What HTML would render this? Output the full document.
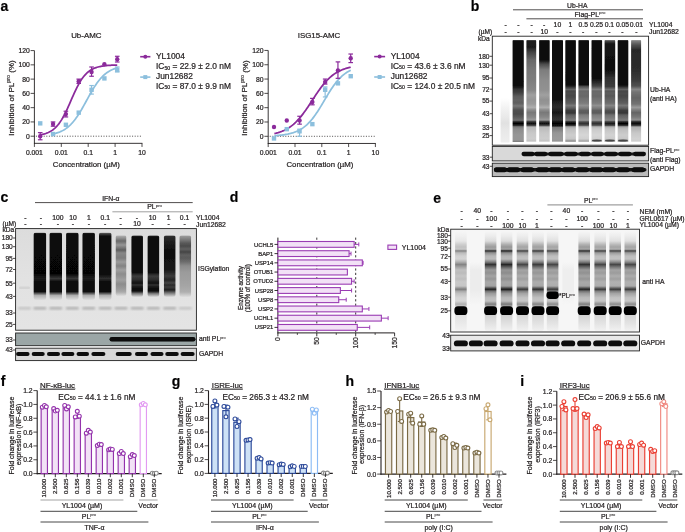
<!DOCTYPE html><html><head><meta charset="utf-8"><style>
html,body{margin:0;padding:0;background:#fff;width:685px;height:532px;overflow:hidden}
svg{display:block;will-change:transform}
text{font-family:"Liberation Sans",sans-serif;stroke:#231f20;stroke-width:0.22px}
</style></head><body>
<svg width="685" height="532" viewBox="0 0 685 532" font-family="Liberation Sans, sans-serif">
<defs><filter id="bl1" x="-30%" y="-5%" width="160%" height="110%"><feGaussianBlur stdDeviation="0.7 0.5"/></filter><filter id="bl2" x="-30%" y="-30%" width="160%" height="160%"><feGaussianBlur stdDeviation="0.6"/></filter><filter id="bl3" x="-30%" y="-30%" width="160%" height="160%"><feGaussianBlur stdDeviation="1.0"/></filter><linearGradient id="lg1" gradientUnits="userSpaceOnUse" x1="0" y1="98" x2="0" y2="143"><stop offset="0.0000" stop-color="#ffffff"/><stop offset="0.2222" stop-color="#f2f2f2"/><stop offset="0.4444" stop-color="#e8e8e8"/><stop offset="0.5556" stop-color="#e1e1e1"/><stop offset="0.7111" stop-color="#e8e8e8"/><stop offset="0.9778" stop-color="#eeeeee"/><stop offset="1.0000" stop-color="#ffffff"/></linearGradient><linearGradient id="lg2" gradientUnits="userSpaceOnUse" x1="0" y1="39.8" x2="0" y2="142.5"><stop offset="0.0000" stop-color="#ffffff"/><stop offset="0.0078" stop-color="#0f0f0f"/><stop offset="0.4158" stop-color="#080808"/><stop offset="0.4547" stop-color="#121212"/><stop offset="0.4791" stop-color="#323232"/><stop offset="0.5083" stop-color="#3c3c3c"/><stop offset="0.5472" stop-color="#5a5a5a"/><stop offset="0.5862" stop-color="#646464"/><stop offset="0.6154" stop-color="#5f5f5f"/><stop offset="0.6446" stop-color="#787878"/><stop offset="0.6835" stop-color="#505050"/><stop offset="0.7225" stop-color="#4b4b4b"/><stop offset="0.7614" stop-color="#5f5f5f"/><stop offset="0.7838" stop-color="#6e6e6e"/><stop offset="0.7984" stop-color="#232323"/><stop offset="0.8150" stop-color="#050505"/><stop offset="0.8325" stop-color="#232323"/><stop offset="0.8471" stop-color="#787878"/><stop offset="0.8685" stop-color="#8c8c8c"/><stop offset="0.9270" stop-color="#969696"/><stop offset="0.9757" stop-color="#969696"/><stop offset="0.9903" stop-color="#828282"/><stop offset="1.0000" stop-color="#ffffff"/></linearGradient><linearGradient id="lg3" gradientUnits="userSpaceOnUse" x1="0" y1="39.8" x2="0" y2="142.5"><stop offset="0.0000" stop-color="#ffffff"/><stop offset="0.0078" stop-color="#1e1e1e"/><stop offset="0.0701" stop-color="#191919"/><stop offset="0.1188" stop-color="#414141"/><stop offset="0.1967" stop-color="#696969"/><stop offset="0.2941" stop-color="#787878"/><stop offset="0.3914" stop-color="#7d7d7d"/><stop offset="0.4888" stop-color="#878787"/><stop offset="0.5375" stop-color="#a0a0a0"/><stop offset="0.5862" stop-color="#969696"/><stop offset="0.6251" stop-color="#9b9b9b"/><stop offset="0.6582" stop-color="#afafaf"/><stop offset="0.6835" stop-color="#8c8c8c"/><stop offset="0.7089" stop-color="#787878"/><stop offset="0.7517" stop-color="#878787"/><stop offset="0.7809" stop-color="#9b9b9b"/><stop offset="0.7965" stop-color="#3c3c3c"/><stop offset="0.8140" stop-color="#0f0f0f"/><stop offset="0.8325" stop-color="#3c3c3c"/><stop offset="0.8491" stop-color="#b9b9b9"/><stop offset="0.9075" stop-color="#c8c8c8"/><stop offset="0.9659" stop-color="#cdcdcd"/><stop offset="0.9854" stop-color="#c3c3c3"/><stop offset="1.0000" stop-color="#ffffff"/></linearGradient><linearGradient id="lg4" gradientUnits="userSpaceOnUse" x1="0" y1="39.8" x2="0" y2="142.5"><stop offset="0.0000" stop-color="#ffffff"/><stop offset="0.0078" stop-color="#0f0f0f"/><stop offset="0.1967" stop-color="#0c0c0c"/><stop offset="0.2356" stop-color="#4b4b4b"/><stop offset="0.2941" stop-color="#7d7d7d"/><stop offset="0.3914" stop-color="#8c8c8c"/><stop offset="0.4888" stop-color="#919191"/><stop offset="0.5375" stop-color="#a0a0a0"/><stop offset="0.5862" stop-color="#919191"/><stop offset="0.6251" stop-color="#969696"/><stop offset="0.6582" stop-color="#afafaf"/><stop offset="0.6835" stop-color="#8c8c8c"/><stop offset="0.7089" stop-color="#787878"/><stop offset="0.7517" stop-color="#878787"/><stop offset="0.7809" stop-color="#9b9b9b"/><stop offset="0.7965" stop-color="#3c3c3c"/><stop offset="0.8140" stop-color="#0f0f0f"/><stop offset="0.8325" stop-color="#3c3c3c"/><stop offset="0.8491" stop-color="#b9b9b9"/><stop offset="0.9075" stop-color="#c8c8c8"/><stop offset="0.9659" stop-color="#cdcdcd"/><stop offset="0.9854" stop-color="#c3c3c3"/><stop offset="1.0000" stop-color="#ffffff"/></linearGradient><linearGradient id="lg5" gradientUnits="userSpaceOnUse" x1="0" y1="39.8" x2="0" y2="142.5"><stop offset="0.0000" stop-color="#ffffff"/><stop offset="0.0078" stop-color="#0a0a0a"/><stop offset="0.5667" stop-color="#080808"/><stop offset="0.6056" stop-color="#1e1e1e"/><stop offset="0.6543" stop-color="#2d2d2d"/><stop offset="0.7089" stop-color="#191919"/><stop offset="0.7517" stop-color="#2d2d2d"/><stop offset="0.7809" stop-color="#323232"/><stop offset="0.7965" stop-color="#141414"/><stop offset="0.8140" stop-color="#000000"/><stop offset="0.8374" stop-color="#141414"/><stop offset="0.8539" stop-color="#787878"/><stop offset="0.9075" stop-color="#969696"/><stop offset="0.9659" stop-color="#9b9b9b"/><stop offset="0.9854" stop-color="#969696"/><stop offset="1.0000" stop-color="#ffffff"/></linearGradient><linearGradient id="lg6" gradientUnits="userSpaceOnUse" x1="0" y1="39.8" x2="0" y2="142.5"><stop offset="0.0000" stop-color="#ffffff"/><stop offset="0.0078" stop-color="#0f0f0f"/><stop offset="0.4012" stop-color="#080808"/><stop offset="0.4401" stop-color="#121212"/><stop offset="0.4499" stop-color="#1e1e1e"/><stop offset="0.4693" stop-color="#464646"/><stop offset="0.4849" stop-color="#646464"/><stop offset="0.4985" stop-color="#464646"/><stop offset="0.5219" stop-color="#4b4b4b"/><stop offset="0.5472" stop-color="#464646"/><stop offset="0.5862" stop-color="#555555"/><stop offset="0.6173" stop-color="#5f5f5f"/><stop offset="0.6397" stop-color="#787878"/><stop offset="0.6650" stop-color="#5f5f5f"/><stop offset="0.6894" stop-color="#3c3c3c"/><stop offset="0.7128" stop-color="#373737"/><stop offset="0.7322" stop-color="#5f5f5f"/><stop offset="0.7614" stop-color="#6e6e6e"/><stop offset="0.7838" stop-color="#7d7d7d"/><stop offset="0.7984" stop-color="#282828"/><stop offset="0.8150" stop-color="#050505"/><stop offset="0.8325" stop-color="#282828"/><stop offset="0.8471" stop-color="#a5a5a5"/><stop offset="0.8685" stop-color="#bebebe"/><stop offset="0.9270" stop-color="#cdcdcd"/><stop offset="0.9659" stop-color="#c6c6c6"/><stop offset="0.9873" stop-color="#8c8c8c"/><stop offset="1.0000" stop-color="#ffffff"/></linearGradient><linearGradient id="lg7" gradientUnits="userSpaceOnUse" x1="0" y1="39.8" x2="0" y2="142.5"><stop offset="0.0000" stop-color="#ffffff"/><stop offset="0.0078" stop-color="#0f0f0f"/><stop offset="0.4012" stop-color="#080808"/><stop offset="0.4401" stop-color="#121212"/><stop offset="0.4499" stop-color="#464646"/><stop offset="0.4693" stop-color="#676767"/><stop offset="0.4849" stop-color="#808080"/><stop offset="0.4985" stop-color="#676767"/><stop offset="0.5219" stop-color="#6b6b6b"/><stop offset="0.5472" stop-color="#676767"/><stop offset="0.5862" stop-color="#747474"/><stop offset="0.6173" stop-color="#7c7c7c"/><stop offset="0.6397" stop-color="#909090"/><stop offset="0.6650" stop-color="#7c7c7c"/><stop offset="0.6894" stop-color="#5f5f5f"/><stop offset="0.7128" stop-color="#5b5b5b"/><stop offset="0.7322" stop-color="#7c7c7c"/><stop offset="0.7614" stop-color="#888888"/><stop offset="0.7838" stop-color="#949494"/><stop offset="0.7984" stop-color="#4f4f4f"/><stop offset="0.8150" stop-color="#323232"/><stop offset="0.8325" stop-color="#4f4f4f"/><stop offset="0.8471" stop-color="#b5b5b5"/><stop offset="0.8685" stop-color="#cacaca"/><stop offset="0.9270" stop-color="#d6d6d6"/><stop offset="0.9659" stop-color="#d0d0d0"/><stop offset="0.9873" stop-color="#a1a1a1"/><stop offset="1.0000" stop-color="#ffffff"/></linearGradient><linearGradient id="lg8" gradientUnits="userSpaceOnUse" x1="0" y1="39.8" x2="0" y2="142.5"><stop offset="0.0000" stop-color="#ffffff"/><stop offset="0.0078" stop-color="#0f0f0f"/><stop offset="0.3427" stop-color="#080808"/><stop offset="0.3817" stop-color="#121212"/><stop offset="0.4499" stop-color="#464646"/><stop offset="0.4693" stop-color="#676767"/><stop offset="0.4849" stop-color="#808080"/><stop offset="0.4985" stop-color="#676767"/><stop offset="0.5219" stop-color="#6b6b6b"/><stop offset="0.5472" stop-color="#676767"/><stop offset="0.5862" stop-color="#747474"/><stop offset="0.6173" stop-color="#7c7c7c"/><stop offset="0.6397" stop-color="#909090"/><stop offset="0.6650" stop-color="#7c7c7c"/><stop offset="0.6894" stop-color="#5f5f5f"/><stop offset="0.7128" stop-color="#5b5b5b"/><stop offset="0.7322" stop-color="#7c7c7c"/><stop offset="0.7614" stop-color="#888888"/><stop offset="0.7838" stop-color="#949494"/><stop offset="0.7984" stop-color="#4f4f4f"/><stop offset="0.8150" stop-color="#323232"/><stop offset="0.8325" stop-color="#4f4f4f"/><stop offset="0.8471" stop-color="#b5b5b5"/><stop offset="0.8685" stop-color="#cacaca"/><stop offset="0.9270" stop-color="#d6d6d6"/><stop offset="0.9659" stop-color="#d0d0d0"/><stop offset="0.9873" stop-color="#a1a1a1"/><stop offset="1.0000" stop-color="#ffffff"/></linearGradient><linearGradient id="lg9" gradientUnits="userSpaceOnUse" x1="0" y1="39.8" x2="0" y2="142.5"><stop offset="0.0000" stop-color="#ffffff"/><stop offset="0.0078" stop-color="#505050"/><stop offset="0.0409" stop-color="#141414"/><stop offset="0.2941" stop-color="#0f0f0f"/><stop offset="0.3720" stop-color="#323232"/><stop offset="0.4499" stop-color="#3c3c3c"/><stop offset="0.4499" stop-color="#343434"/><stop offset="0.4693" stop-color="#585858"/><stop offset="0.4849" stop-color="#747474"/><stop offset="0.4985" stop-color="#585858"/><stop offset="0.5219" stop-color="#5d5d5d"/><stop offset="0.5472" stop-color="#585858"/><stop offset="0.5862" stop-color="#666666"/><stop offset="0.6173" stop-color="#6f6f6f"/><stop offset="0.6397" stop-color="#868686"/><stop offset="0.6650" stop-color="#6f6f6f"/><stop offset="0.6894" stop-color="#505050"/><stop offset="0.7128" stop-color="#4b4b4b"/><stop offset="0.7322" stop-color="#6f6f6f"/><stop offset="0.7614" stop-color="#7c7c7c"/><stop offset="0.7838" stop-color="#8a8a8a"/><stop offset="0.7984" stop-color="#3e3e3e"/><stop offset="0.8150" stop-color="#1e1e1e"/><stop offset="0.8325" stop-color="#3e3e3e"/><stop offset="0.8471" stop-color="#aeaeae"/><stop offset="0.8685" stop-color="#c4c4c4"/><stop offset="0.9270" stop-color="#d2d2d2"/><stop offset="0.9659" stop-color="#cccccc"/><stop offset="0.9873" stop-color="#989898"/><stop offset="1.0000" stop-color="#ffffff"/></linearGradient><linearGradient id="lg10" gradientUnits="userSpaceOnUse" x1="0" y1="39.8" x2="0" y2="142.5"><stop offset="0.0000" stop-color="#ffffff"/><stop offset="0.0078" stop-color="#0f0f0f"/><stop offset="0.4012" stop-color="#080808"/><stop offset="0.4401" stop-color="#121212"/><stop offset="0.4499" stop-color="#1e1e1e"/><stop offset="0.4693" stop-color="#464646"/><stop offset="0.4849" stop-color="#646464"/><stop offset="0.4985" stop-color="#464646"/><stop offset="0.5219" stop-color="#4b4b4b"/><stop offset="0.5472" stop-color="#464646"/><stop offset="0.5862" stop-color="#555555"/><stop offset="0.6173" stop-color="#5f5f5f"/><stop offset="0.6397" stop-color="#787878"/><stop offset="0.6650" stop-color="#5f5f5f"/><stop offset="0.6894" stop-color="#3c3c3c"/><stop offset="0.7128" stop-color="#373737"/><stop offset="0.7322" stop-color="#5f5f5f"/><stop offset="0.7614" stop-color="#6e6e6e"/><stop offset="0.7838" stop-color="#7d7d7d"/><stop offset="0.7984" stop-color="#282828"/><stop offset="0.8150" stop-color="#050505"/><stop offset="0.8325" stop-color="#282828"/><stop offset="0.8471" stop-color="#a5a5a5"/><stop offset="0.8685" stop-color="#bebebe"/><stop offset="0.9270" stop-color="#cdcdcd"/><stop offset="0.9659" stop-color="#c6c6c6"/><stop offset="0.9873" stop-color="#8c8c8c"/><stop offset="1.0000" stop-color="#ffffff"/></linearGradient><linearGradient id="lg11" gradientUnits="userSpaceOnUse" x1="0" y1="39.8" x2="0" y2="142.5"><stop offset="0.0000" stop-color="#ffffff"/><stop offset="0.0078" stop-color="#828282"/><stop offset="0.0506" stop-color="#505050"/><stop offset="0.0993" stop-color="#282828"/><stop offset="0.2941" stop-color="#2d2d2d"/><stop offset="0.3914" stop-color="#3c3c3c"/><stop offset="0.4499" stop-color="#505050"/><stop offset="0.4830" stop-color="#878787"/><stop offset="0.5083" stop-color="#737373"/><stop offset="0.5667" stop-color="#646464"/><stop offset="0.6251" stop-color="#737373"/><stop offset="0.6582" stop-color="#9b9b9b"/><stop offset="0.6835" stop-color="#7d7d7d"/><stop offset="0.7089" stop-color="#646464"/><stop offset="0.7517" stop-color="#787878"/><stop offset="0.7809" stop-color="#919191"/><stop offset="0.7965" stop-color="#323232"/><stop offset="0.8140" stop-color="#0a0a0a"/><stop offset="0.8325" stop-color="#323232"/><stop offset="0.8491" stop-color="#afafaf"/><stop offset="0.9075" stop-color="#c8c8c8"/><stop offset="0.9659" stop-color="#d2d2d2"/><stop offset="0.9854" stop-color="#cdcdcd"/><stop offset="1.0000" stop-color="#ffffff"/></linearGradient><linearGradient id="cbg" x1="0" y1="0" x2="0" y2="1"><stop offset="0" stop-color="#dcdcdc"/><stop offset="0.5" stop-color="#e2e2e2"/><stop offset="1" stop-color="#e4e4e4"/></linearGradient><linearGradient id="lg12" gradientUnits="userSpaceOnUse" x1="0" y1="232.3" x2="0" y2="300"><stop offset="0.0000" stop-color="#dedede"/><stop offset="0.0148" stop-color="#141414"/><stop offset="0.0547" stop-color="#080808"/><stop offset="0.6160" stop-color="#060606"/><stop offset="0.6824" stop-color="#1e1e1e"/><stop offset="0.7341" stop-color="#0a0a0a"/><stop offset="0.8744" stop-color="#080808"/><stop offset="0.8996" stop-color="#505050"/><stop offset="0.9335" stop-color="#afafaf"/><stop offset="1.0000" stop-color="#dedede"/></linearGradient><linearGradient id="lg13" gradientUnits="userSpaceOnUse" x1="0" y1="232.3" x2="0" y2="300"><stop offset="0.0000" stop-color="#dedede"/><stop offset="0.0148" stop-color="#141414"/><stop offset="0.0547" stop-color="#080808"/><stop offset="0.6160" stop-color="#060606"/><stop offset="0.6824" stop-color="#373737"/><stop offset="0.7341" stop-color="#0a0a0a"/><stop offset="0.8744" stop-color="#080808"/><stop offset="0.8996" stop-color="#505050"/><stop offset="0.9335" stop-color="#afafaf"/><stop offset="1.0000" stop-color="#dedede"/></linearGradient><linearGradient id="lg14" gradientUnits="userSpaceOnUse" x1="0" y1="232.3" x2="0" y2="300"><stop offset="0.0000" stop-color="#dedede"/><stop offset="0.0148" stop-color="#141414"/><stop offset="0.0547" stop-color="#080808"/><stop offset="0.6160" stop-color="#060606"/><stop offset="0.6824" stop-color="#373737"/><stop offset="0.7341" stop-color="#0a0a0a"/><stop offset="0.8744" stop-color="#080808"/><stop offset="0.8996" stop-color="#505050"/><stop offset="0.9335" stop-color="#afafaf"/><stop offset="1.0000" stop-color="#dedede"/></linearGradient><linearGradient id="lg15" gradientUnits="userSpaceOnUse" x1="0" y1="232.3" x2="0" y2="300"><stop offset="0.0000" stop-color="#dedede"/><stop offset="0.0148" stop-color="#141414"/><stop offset="0.0547" stop-color="#080808"/><stop offset="0.6160" stop-color="#060606"/><stop offset="0.6824" stop-color="#1e1e1e"/><stop offset="0.7341" stop-color="#0a0a0a"/><stop offset="0.8744" stop-color="#080808"/><stop offset="0.8996" stop-color="#505050"/><stop offset="0.9335" stop-color="#afafaf"/><stop offset="1.0000" stop-color="#dedede"/></linearGradient><linearGradient id="lg16" gradientUnits="userSpaceOnUse" x1="0" y1="232.3" x2="0" y2="300"><stop offset="0.0000" stop-color="#dedede"/><stop offset="0.0148" stop-color="#505050"/><stop offset="0.0547" stop-color="#0f0f0f"/><stop offset="0.6160" stop-color="#080808"/><stop offset="0.6824" stop-color="#2d2d2d"/><stop offset="0.7341" stop-color="#0c0c0c"/><stop offset="0.8744" stop-color="#080808"/><stop offset="0.8996" stop-color="#505050"/><stop offset="0.9335" stop-color="#afafaf"/><stop offset="1.0000" stop-color="#dedede"/></linearGradient><linearGradient id="lg17" gradientUnits="userSpaceOnUse" x1="0" y1="235" x2="0" y2="296"><stop offset="0.0000" stop-color="#dedede"/><stop offset="0.0246" stop-color="#a5a5a5"/><stop offset="0.0984" stop-color="#696969"/><stop offset="0.1639" stop-color="#969696"/><stop offset="0.2459" stop-color="#5f5f5f"/><stop offset="0.2951" stop-color="#878787"/><stop offset="0.3770" stop-color="#7d7d7d"/><stop offset="0.4426" stop-color="#9b9b9b"/><stop offset="0.5082" stop-color="#828282"/><stop offset="0.5738" stop-color="#a0a0a0"/><stop offset="0.6393" stop-color="#8c8c8c"/><stop offset="0.7377" stop-color="#a0a0a0"/><stop offset="0.8033" stop-color="#8c8c8c"/><stop offset="0.8852" stop-color="#9b9b9b"/><stop offset="0.9344" stop-color="#aaaaaa"/><stop offset="1.0000" stop-color="#dedede"/></linearGradient><linearGradient id="lg18" gradientUnits="userSpaceOnUse" x1="0" y1="235" x2="0" y2="297"><stop offset="0.0000" stop-color="#dedede"/><stop offset="0.0242" stop-color="#141414"/><stop offset="0.0806" stop-color="#0a0a0a"/><stop offset="0.5968" stop-color="#0a0a0a"/><stop offset="0.6613" stop-color="#3c3c3c"/><stop offset="0.7258" stop-color="#2d2d2d"/><stop offset="0.7742" stop-color="#0f0f0f"/><stop offset="0.8065" stop-color="#323232"/><stop offset="0.8387" stop-color="#141414"/><stop offset="0.9032" stop-color="#0a0a0a"/><stop offset="0.9435" stop-color="#787878"/><stop offset="1.0000" stop-color="#dedede"/></linearGradient><linearGradient id="lg19" gradientUnits="userSpaceOnUse" x1="0" y1="235" x2="0" y2="297"><stop offset="0.0000" stop-color="#dedede"/><stop offset="0.0242" stop-color="#141414"/><stop offset="0.0806" stop-color="#0a0a0a"/><stop offset="0.5968" stop-color="#0a0a0a"/><stop offset="0.6613" stop-color="#3c3c3c"/><stop offset="0.7258" stop-color="#2d2d2d"/><stop offset="0.7742" stop-color="#0f0f0f"/><stop offset="0.8065" stop-color="#323232"/><stop offset="0.8387" stop-color="#141414"/><stop offset="0.9032" stop-color="#0a0a0a"/><stop offset="0.9435" stop-color="#787878"/><stop offset="1.0000" stop-color="#dedede"/></linearGradient><linearGradient id="lg20" gradientUnits="userSpaceOnUse" x1="0" y1="235" x2="0" y2="297"><stop offset="0.0000" stop-color="#dedede"/><stop offset="0.0242" stop-color="#2d2d2d"/><stop offset="0.1129" stop-color="#1e1e1e"/><stop offset="0.2419" stop-color="#0f0f0f"/><stop offset="0.4355" stop-color="#121212"/><stop offset="0.5645" stop-color="#191919"/><stop offset="0.6613" stop-color="#3c3c3c"/><stop offset="0.7258" stop-color="#232323"/><stop offset="0.7742" stop-color="#464646"/><stop offset="0.8065" stop-color="#282828"/><stop offset="0.8387" stop-color="#3c3c3c"/><stop offset="0.8871" stop-color="#1e1e1e"/><stop offset="0.9355" stop-color="#787878"/><stop offset="1.0000" stop-color="#dedede"/></linearGradient><linearGradient id="lg21" gradientUnits="userSpaceOnUse" x1="0" y1="235" x2="0" y2="297"><stop offset="0.0000" stop-color="#dedede"/><stop offset="0.0242" stop-color="#969696"/><stop offset="0.0806" stop-color="#787878"/><stop offset="0.1290" stop-color="#5a5a5a"/><stop offset="0.1774" stop-color="#4b4b4b"/><stop offset="0.2258" stop-color="#5f5f5f"/><stop offset="0.2742" stop-color="#464646"/><stop offset="0.3226" stop-color="#5f5f5f"/><stop offset="0.3710" stop-color="#5a5a5a"/><stop offset="0.4355" stop-color="#6e6e6e"/><stop offset="0.5000" stop-color="#8c8c8c"/><stop offset="0.5968" stop-color="#9b9b9b"/><stop offset="0.7258" stop-color="#a0a0a0"/><stop offset="0.8226" stop-color="#a5a5a5"/><stop offset="0.9194" stop-color="#afafaf"/><stop offset="1.0000" stop-color="#dedede"/></linearGradient><linearGradient id="lg22" gradientUnits="userSpaceOnUse" x1="0" y1="231" x2="0" y2="331"><stop offset="0.0000" stop-color="#f6f6f6"/><stop offset="0.0500" stop-color="#f0f0f0"/><stop offset="0.1000" stop-color="#e7e7e7"/><stop offset="0.1350" stop-color="#cecece"/><stop offset="0.1600" stop-color="#c1c1c1"/><stop offset="0.1820" stop-color="#c9c9c9"/><stop offset="0.1990" stop-color="#828282"/><stop offset="0.2180" stop-color="#bbbbbb"/><stop offset="0.2500" stop-color="#d1d1d1"/><stop offset="0.2800" stop-color="#d4d4d4"/><stop offset="0.3100" stop-color="#b0b0b0"/><stop offset="0.3350" stop-color="#848484"/><stop offset="0.3650" stop-color="#a8a8a8"/><stop offset="0.3900" stop-color="#c1c1c1"/><stop offset="0.4200" stop-color="#bbbbbb"/><stop offset="0.4500" stop-color="#c6c6c6"/><stop offset="0.4800" stop-color="#bebebe"/><stop offset="0.5100" stop-color="#c9c9c9"/><stop offset="0.5500" stop-color="#c6c6c6"/><stop offset="0.5830" stop-color="#7c7c7c"/><stop offset="0.6030" stop-color="#ababab"/><stop offset="0.6250" stop-color="#c1c1c1"/><stop offset="0.6670" stop-color="#d4d4d4"/><stop offset="0.7000" stop-color="#d7d7d7"/><stop offset="0.7320" stop-color="#b0b0b0"/><stop offset="0.7500" stop-color="#c9c9c9"/><stop offset="0.8500" stop-color="#e2e2e2"/><stop offset="0.9100" stop-color="#e8e8e8"/><stop offset="1.0000" stop-color="#f2f2f2"/></linearGradient><linearGradient id="lg23" gradientUnits="userSpaceOnUse" x1="0" y1="231" x2="0" y2="331"><stop offset="0.0000" stop-color="#f6f6f6"/><stop offset="0.0500" stop-color="#ececec"/><stop offset="0.1000" stop-color="#dddddd"/><stop offset="0.1350" stop-color="#b2b2b2"/><stop offset="0.1600" stop-color="#9b9b9b"/><stop offset="0.1820" stop-color="#a9a9a9"/><stop offset="0.1990" stop-color="#2e2e2e"/><stop offset="0.2180" stop-color="#919191"/><stop offset="0.2500" stop-color="#b7b7b7"/><stop offset="0.2800" stop-color="#bcbcbc"/><stop offset="0.3100" stop-color="#7e7e7e"/><stop offset="0.3350" stop-color="#323232"/><stop offset="0.3650" stop-color="#707070"/><stop offset="0.3900" stop-color="#9b9b9b"/><stop offset="0.4200" stop-color="#919191"/><stop offset="0.4500" stop-color="#a4a4a4"/><stop offset="0.4800" stop-color="#969696"/><stop offset="0.5100" stop-color="#a9a9a9"/><stop offset="0.5500" stop-color="#a4a4a4"/><stop offset="0.5830" stop-color="#242424"/><stop offset="0.6030" stop-color="#757575"/><stop offset="0.6250" stop-color="#9b9b9b"/><stop offset="0.6670" stop-color="#bcbcbc"/><stop offset="0.7000" stop-color="#c1c1c1"/><stop offset="0.7320" stop-color="#7e7e7e"/><stop offset="0.7500" stop-color="#a9a9a9"/><stop offset="0.8500" stop-color="#d4d4d4"/><stop offset="0.9100" stop-color="#dfdfdf"/><stop offset="1.0000" stop-color="#f0f0f0"/></linearGradient><linearGradient id="lg24" gradientUnits="userSpaceOnUse" x1="0" y1="231" x2="0" y2="331"><stop offset="0.0000" stop-color="#f6f6f6"/><stop offset="0.0500" stop-color="#ececec"/><stop offset="0.1000" stop-color="#dcdcdc"/><stop offset="0.1350" stop-color="#afafaf"/><stop offset="0.1600" stop-color="#969696"/><stop offset="0.1820" stop-color="#a5a5a5"/><stop offset="0.1990" stop-color="#232323"/><stop offset="0.2180" stop-color="#8c8c8c"/><stop offset="0.2500" stop-color="#b4b4b4"/><stop offset="0.2800" stop-color="#b9b9b9"/><stop offset="0.3100" stop-color="#787878"/><stop offset="0.3350" stop-color="#282828"/><stop offset="0.3650" stop-color="#696969"/><stop offset="0.3900" stop-color="#969696"/><stop offset="0.4200" stop-color="#8c8c8c"/><stop offset="0.4500" stop-color="#a0a0a0"/><stop offset="0.4800" stop-color="#919191"/><stop offset="0.5100" stop-color="#a5a5a5"/><stop offset="0.5500" stop-color="#a0a0a0"/><stop offset="0.5830" stop-color="#191919"/><stop offset="0.6030" stop-color="#6e6e6e"/><stop offset="0.6250" stop-color="#969696"/><stop offset="0.6670" stop-color="#b9b9b9"/><stop offset="0.7000" stop-color="#bebebe"/><stop offset="0.7320" stop-color="#787878"/><stop offset="0.7500" stop-color="#a5a5a5"/><stop offset="0.8500" stop-color="#d2d2d2"/><stop offset="0.9100" stop-color="#dedede"/><stop offset="1.0000" stop-color="#f0f0f0"/></linearGradient><linearGradient id="lg25" gradientUnits="userSpaceOnUse" x1="0" y1="231" x2="0" y2="331"><stop offset="0.0000" stop-color="#f6f6f6"/><stop offset="0.0500" stop-color="#ededed"/><stop offset="0.1000" stop-color="#e0e0e0"/><stop offset="0.1350" stop-color="#bababa"/><stop offset="0.1600" stop-color="#a4a4a4"/><stop offset="0.1820" stop-color="#b1b1b1"/><stop offset="0.1990" stop-color="#424242"/><stop offset="0.2180" stop-color="#9c9c9c"/><stop offset="0.2500" stop-color="#bebebe"/><stop offset="0.2800" stop-color="#c2c2c2"/><stop offset="0.3100" stop-color="#8b8b8b"/><stop offset="0.3350" stop-color="#474747"/><stop offset="0.3650" stop-color="#7e7e7e"/><stop offset="0.3900" stop-color="#a4a4a4"/><stop offset="0.4200" stop-color="#9c9c9c"/><stop offset="0.4500" stop-color="#adadad"/><stop offset="0.4800" stop-color="#a0a0a0"/><stop offset="0.5100" stop-color="#b1b1b1"/><stop offset="0.5500" stop-color="#adadad"/><stop offset="0.5830" stop-color="#3a3a3a"/><stop offset="0.6030" stop-color="#828282"/><stop offset="0.6250" stop-color="#a4a4a4"/><stop offset="0.6670" stop-color="#c2c2c2"/><stop offset="0.7000" stop-color="#c6c6c6"/><stop offset="0.7320" stop-color="#8b8b8b"/><stop offset="0.7500" stop-color="#b1b1b1"/><stop offset="0.8500" stop-color="#d7d7d7"/><stop offset="0.9100" stop-color="#e1e1e1"/><stop offset="1.0000" stop-color="#f1f1f1"/></linearGradient><linearGradient id="lg26" gradientUnits="userSpaceOnUse" x1="0" y1="231" x2="0" y2="331"><stop offset="0.0000" stop-color="#f6f6f6"/><stop offset="0.0500" stop-color="#ededed"/><stop offset="0.1000" stop-color="#dedede"/><stop offset="0.1350" stop-color="#b6b6b6"/><stop offset="0.1600" stop-color="#a0a0a0"/><stop offset="0.1820" stop-color="#adadad"/><stop offset="0.1990" stop-color="#383838"/><stop offset="0.2180" stop-color="#969696"/><stop offset="0.2500" stop-color="#bababa"/><stop offset="0.2800" stop-color="#bfbfbf"/><stop offset="0.3100" stop-color="#848484"/><stop offset="0.3350" stop-color="#3c3c3c"/><stop offset="0.3650" stop-color="#777777"/><stop offset="0.3900" stop-color="#a0a0a0"/><stop offset="0.4200" stop-color="#969696"/><stop offset="0.4500" stop-color="#a8a8a8"/><stop offset="0.4800" stop-color="#9b9b9b"/><stop offset="0.5100" stop-color="#adadad"/><stop offset="0.5500" stop-color="#a8a8a8"/><stop offset="0.5830" stop-color="#2f2f2f"/><stop offset="0.6030" stop-color="#7c7c7c"/><stop offset="0.6250" stop-color="#a0a0a0"/><stop offset="0.6670" stop-color="#bfbfbf"/><stop offset="0.7000" stop-color="#c4c4c4"/><stop offset="0.7320" stop-color="#848484"/><stop offset="0.7500" stop-color="#adadad"/><stop offset="0.8500" stop-color="#d6d6d6"/><stop offset="0.9100" stop-color="#e0e0e0"/><stop offset="1.0000" stop-color="#f0f0f0"/></linearGradient><linearGradient id="lg27" gradientUnits="userSpaceOnUse" x1="0" y1="231" x2="0" y2="331"><stop offset="0.0000" stop-color="#f6f6f6"/><stop offset="0.0500" stop-color="#ededed"/><stop offset="0.1000" stop-color="#e0e0e0"/><stop offset="0.1350" stop-color="#bababa"/><stop offset="0.1600" stop-color="#a4a4a4"/><stop offset="0.1820" stop-color="#b1b1b1"/><stop offset="0.1990" stop-color="#424242"/><stop offset="0.2180" stop-color="#9c9c9c"/><stop offset="0.2500" stop-color="#bebebe"/><stop offset="0.2800" stop-color="#c2c2c2"/><stop offset="0.3100" stop-color="#8b8b8b"/><stop offset="0.3350" stop-color="#474747"/><stop offset="0.3650" stop-color="#7e7e7e"/><stop offset="0.3900" stop-color="#a4a4a4"/><stop offset="0.4200" stop-color="#9c9c9c"/><stop offset="0.4500" stop-color="#adadad"/><stop offset="0.4800" stop-color="#a0a0a0"/><stop offset="0.5100" stop-color="#b1b1b1"/><stop offset="0.5500" stop-color="#adadad"/><stop offset="0.5830" stop-color="#3a3a3a"/><stop offset="0.6030" stop-color="#828282"/><stop offset="0.6250" stop-color="#a4a4a4"/><stop offset="0.6670" stop-color="#c2c2c2"/><stop offset="0.7000" stop-color="#c6c6c6"/><stop offset="0.7320" stop-color="#8b8b8b"/><stop offset="0.7500" stop-color="#b1b1b1"/><stop offset="0.8500" stop-color="#d7d7d7"/><stop offset="0.9100" stop-color="#e1e1e1"/><stop offset="1.0000" stop-color="#f1f1f1"/></linearGradient><linearGradient id="lg28" gradientUnits="userSpaceOnUse" x1="0" y1="231" x2="0" y2="331"><stop offset="0.0000" stop-color="#f6f6f6"/><stop offset="0.0500" stop-color="#ececec"/><stop offset="0.1000" stop-color="#dddddd"/><stop offset="0.1350" stop-color="#b2b2b2"/><stop offset="0.1600" stop-color="#9b9b9b"/><stop offset="0.1820" stop-color="#a9a9a9"/><stop offset="0.1990" stop-color="#2e2e2e"/><stop offset="0.2180" stop-color="#919191"/><stop offset="0.2500" stop-color="#b7b7b7"/><stop offset="0.2800" stop-color="#bcbcbc"/><stop offset="0.3100" stop-color="#7e7e7e"/><stop offset="0.3350" stop-color="#323232"/><stop offset="0.3650" stop-color="#707070"/><stop offset="0.3900" stop-color="#9b9b9b"/><stop offset="0.4200" stop-color="#919191"/><stop offset="0.4500" stop-color="#a4a4a4"/><stop offset="0.4800" stop-color="#969696"/><stop offset="0.5100" stop-color="#a9a9a9"/><stop offset="0.5500" stop-color="#a4a4a4"/><stop offset="0.5830" stop-color="#242424"/><stop offset="0.6030" stop-color="#757575"/><stop offset="0.6250" stop-color="#9b9b9b"/><stop offset="0.6670" stop-color="#bcbcbc"/><stop offset="0.7000" stop-color="#c1c1c1"/><stop offset="0.7320" stop-color="#7e7e7e"/><stop offset="0.7500" stop-color="#a9a9a9"/><stop offset="0.8500" stop-color="#d4d4d4"/><stop offset="0.9100" stop-color="#dfdfdf"/><stop offset="1.0000" stop-color="#f0f0f0"/></linearGradient><linearGradient id="lg29" gradientUnits="userSpaceOnUse" x1="0" y1="231" x2="0" y2="331"><stop offset="0.0000" stop-color="#f6f6f6"/><stop offset="0.0500" stop-color="#ededed"/><stop offset="0.1000" stop-color="#e0e0e0"/><stop offset="0.1350" stop-color="#bababa"/><stop offset="0.1600" stop-color="#a4a4a4"/><stop offset="0.1820" stop-color="#b1b1b1"/><stop offset="0.1990" stop-color="#424242"/><stop offset="0.2180" stop-color="#9c9c9c"/><stop offset="0.2500" stop-color="#bebebe"/><stop offset="0.2800" stop-color="#c2c2c2"/><stop offset="0.3100" stop-color="#8b8b8b"/><stop offset="0.3350" stop-color="#474747"/><stop offset="0.3650" stop-color="#7e7e7e"/><stop offset="0.3900" stop-color="#a4a4a4"/><stop offset="0.4200" stop-color="#9c9c9c"/><stop offset="0.4500" stop-color="#adadad"/><stop offset="0.4800" stop-color="#a0a0a0"/><stop offset="0.5100" stop-color="#b1b1b1"/><stop offset="0.5500" stop-color="#adadad"/><stop offset="0.5830" stop-color="#3a3a3a"/><stop offset="0.6030" stop-color="#828282"/><stop offset="0.6250" stop-color="#a4a4a4"/><stop offset="0.6670" stop-color="#c2c2c2"/><stop offset="0.7000" stop-color="#c6c6c6"/><stop offset="0.7320" stop-color="#8b8b8b"/><stop offset="0.7500" stop-color="#b1b1b1"/><stop offset="0.8500" stop-color="#d7d7d7"/><stop offset="0.9100" stop-color="#e1e1e1"/><stop offset="1.0000" stop-color="#f1f1f1"/></linearGradient><linearGradient id="lg30" gradientUnits="userSpaceOnUse" x1="0" y1="231" x2="0" y2="331"><stop offset="0.0000" stop-color="#f6f6f6"/><stop offset="0.0500" stop-color="#ededed"/><stop offset="0.1000" stop-color="#e0e0e0"/><stop offset="0.1350" stop-color="#bababa"/><stop offset="0.1600" stop-color="#a4a4a4"/><stop offset="0.1820" stop-color="#b1b1b1"/><stop offset="0.1990" stop-color="#424242"/><stop offset="0.2180" stop-color="#9c9c9c"/><stop offset="0.2500" stop-color="#bebebe"/><stop offset="0.2800" stop-color="#c2c2c2"/><stop offset="0.3100" stop-color="#8b8b8b"/><stop offset="0.3350" stop-color="#474747"/><stop offset="0.3650" stop-color="#7e7e7e"/><stop offset="0.3900" stop-color="#a4a4a4"/><stop offset="0.4200" stop-color="#9c9c9c"/><stop offset="0.4500" stop-color="#adadad"/><stop offset="0.4800" stop-color="#a0a0a0"/><stop offset="0.5100" stop-color="#b1b1b1"/><stop offset="0.5500" stop-color="#adadad"/><stop offset="0.5830" stop-color="#3a3a3a"/><stop offset="0.6030" stop-color="#828282"/><stop offset="0.6250" stop-color="#a4a4a4"/><stop offset="0.6670" stop-color="#c2c2c2"/><stop offset="0.7000" stop-color="#c6c6c6"/><stop offset="0.7320" stop-color="#8b8b8b"/><stop offset="0.7500" stop-color="#b1b1b1"/><stop offset="0.8500" stop-color="#d7d7d7"/><stop offset="0.9100" stop-color="#e1e1e1"/><stop offset="1.0000" stop-color="#f1f1f1"/></linearGradient><linearGradient id="lg31" gradientUnits="userSpaceOnUse" x1="0" y1="231" x2="0" y2="331"><stop offset="0.0000" stop-color="#f6f6f6"/><stop offset="0.0500" stop-color="#ededed"/><stop offset="0.1000" stop-color="#e0e0e0"/><stop offset="0.1350" stop-color="#bababa"/><stop offset="0.1600" stop-color="#a4a4a4"/><stop offset="0.1820" stop-color="#b1b1b1"/><stop offset="0.1990" stop-color="#424242"/><stop offset="0.2180" stop-color="#9c9c9c"/><stop offset="0.2500" stop-color="#bebebe"/><stop offset="0.2800" stop-color="#c2c2c2"/><stop offset="0.3100" stop-color="#8b8b8b"/><stop offset="0.3350" stop-color="#474747"/><stop offset="0.3650" stop-color="#7e7e7e"/><stop offset="0.3900" stop-color="#a4a4a4"/><stop offset="0.4200" stop-color="#9c9c9c"/><stop offset="0.4500" stop-color="#adadad"/><stop offset="0.4800" stop-color="#a0a0a0"/><stop offset="0.5100" stop-color="#b1b1b1"/><stop offset="0.5500" stop-color="#adadad"/><stop offset="0.5830" stop-color="#3a3a3a"/><stop offset="0.6030" stop-color="#828282"/><stop offset="0.6250" stop-color="#a4a4a4"/><stop offset="0.6670" stop-color="#c2c2c2"/><stop offset="0.7000" stop-color="#c6c6c6"/><stop offset="0.7320" stop-color="#8b8b8b"/><stop offset="0.7500" stop-color="#b1b1b1"/><stop offset="0.8500" stop-color="#d7d7d7"/><stop offset="0.9100" stop-color="#e1e1e1"/><stop offset="1.0000" stop-color="#f1f1f1"/></linearGradient><linearGradient id="lg32" gradientUnits="userSpaceOnUse" x1="0" y1="262" x2="0" y2="305"><stop offset="0.0000" stop-color="#f6f6f6"/><stop offset="0.1860" stop-color="#ececec"/><stop offset="0.6512" stop-color="#ececec"/><stop offset="1.0000" stop-color="#f6f6f6"/></linearGradient><linearGradient id="lg33" gradientUnits="userSpaceOnUse" x1="0" y1="262" x2="0" y2="305"><stop offset="0.0000" stop-color="#f6f6f6"/><stop offset="0.1860" stop-color="#eeeeee"/><stop offset="0.6512" stop-color="#eeeeee"/><stop offset="1.0000" stop-color="#f6f6f6"/></linearGradient></defs>
<rect width="685" height="532" fill="#fff"/>
<text x="0.40" y="10.80" font-size="14.0" text-anchor="start" font-weight="bold" fill="#000" >a</text>
<text x="470.70" y="10.60" font-size="14.0" text-anchor="start" font-weight="bold" fill="#000" >b</text>
<text x="0.40" y="202.30" font-size="14.0" text-anchor="start" font-weight="bold" fill="#000" >c</text>
<text x="229.70" y="202.10" font-size="14.0" text-anchor="start" font-weight="bold" fill="#000" >d</text>
<text x="433.30" y="202.50" font-size="14.0" text-anchor="start" font-weight="bold" fill="#000" >e</text>
<text x="0.70" y="386.00" font-size="14.0" text-anchor="start" font-weight="bold" fill="#000" >f</text>
<text x="171.70" y="386.40" font-size="14.0" text-anchor="start" font-weight="bold" fill="#000" >g</text>
<text x="345.50" y="386.30" font-size="14.0" text-anchor="start" font-weight="bold" fill="#000" >h</text>
<text x="520.30" y="385.70" font-size="14.0" text-anchor="start" font-weight="bold" fill="#000" >i</text>
<text x="86.30" y="38.40" font-size="7.9" text-anchor="middle" font-weight="normal" fill="#231f20" >Ub-AMC</text>
<line x1="34.40" y1="50.58" x2="34.40" y2="143.73" stroke="#231f20" stroke-width="0.9" />
<line x1="34.00" y1="143.33" x2="142.40" y2="143.33" stroke="#231f20" stroke-width="0.9" />
<line x1="30.60" y1="136.20" x2="34.40" y2="136.20" stroke="#231f20" stroke-width="0.8" />
<text x="29.80" y="138.65" font-size="6.8" text-anchor="end" font-weight="normal" fill="#231f20" >0</text>
<line x1="30.60" y1="121.93" x2="34.40" y2="121.93" stroke="#231f20" stroke-width="0.8" />
<text x="29.80" y="124.38" font-size="6.8" text-anchor="end" font-weight="normal" fill="#231f20" >20</text>
<line x1="30.60" y1="107.66" x2="34.40" y2="107.66" stroke="#231f20" stroke-width="0.8" />
<text x="29.80" y="110.11" font-size="6.8" text-anchor="end" font-weight="normal" fill="#231f20" >40</text>
<line x1="30.60" y1="93.39" x2="34.40" y2="93.39" stroke="#231f20" stroke-width="0.8" />
<text x="29.80" y="95.84" font-size="6.8" text-anchor="end" font-weight="normal" fill="#231f20" >60</text>
<line x1="30.60" y1="79.12" x2="34.40" y2="79.12" stroke="#231f20" stroke-width="0.8" />
<text x="29.80" y="81.57" font-size="6.8" text-anchor="end" font-weight="normal" fill="#231f20" >80</text>
<line x1="30.60" y1="64.85" x2="34.40" y2="64.85" stroke="#231f20" stroke-width="0.8" />
<text x="29.80" y="67.30" font-size="6.8" text-anchor="end" font-weight="normal" fill="#231f20" >100</text>
<line x1="30.60" y1="50.58" x2="34.40" y2="50.58" stroke="#231f20" stroke-width="0.8" />
<text x="29.80" y="53.03" font-size="6.8" text-anchor="end" font-weight="normal" fill="#231f20" >120</text>
<line x1="34.40" y1="143.33" x2="34.40" y2="146.93" stroke="#231f20" stroke-width="0.8" />
<text x="34.40" y="155.33" font-size="6.8" text-anchor="middle" font-weight="normal" fill="#231f20" >0.001</text>
<line x1="61.30" y1="143.33" x2="61.30" y2="146.93" stroke="#231f20" stroke-width="0.8" />
<text x="61.30" y="155.33" font-size="6.8" text-anchor="middle" font-weight="normal" fill="#231f20" >0.01</text>
<line x1="88.20" y1="143.33" x2="88.20" y2="146.93" stroke="#231f20" stroke-width="0.8" />
<text x="88.20" y="155.33" font-size="6.8" text-anchor="middle" font-weight="normal" fill="#231f20" >0.1</text>
<line x1="115.10" y1="143.33" x2="115.10" y2="146.93" stroke="#231f20" stroke-width="0.8" />
<text x="115.10" y="155.33" font-size="6.8" text-anchor="middle" font-weight="normal" fill="#231f20" >1</text>
<line x1="142.00" y1="143.33" x2="142.00" y2="146.93" stroke="#231f20" stroke-width="0.8" />
<text x="142.00" y="155.33" font-size="6.8" text-anchor="middle" font-weight="normal" fill="#231f20" >10</text>
<text x="86.30" y="166.90" font-size="7.8" text-anchor="middle" font-weight="normal" fill="#231f20" >Concentration (µM)</text>
<text transform="translate(11.00,98.00) rotate(-90)" x="0" y="0" font-size="8.0" text-anchor="middle" dominant-baseline="central" fill="#231f20" >Inhibition of PL<tspan font-size="5.4" dy="-3.0" stroke-width="0.1">pro</tspan><tspan dy="3.0"> (%)</tspan></text>
<line x1="35.90" y1="136.20" x2="142.00" y2="136.20" stroke="#231f20" stroke-width="0.8" stroke-dasharray="1,1.6"/>
<polyline points="40.60,134.79 41.56,134.60 42.51,134.40 43.47,134.17 44.43,133.92 45.39,133.63 46.35,133.30 47.30,132.94 48.26,132.54 49.22,132.09 50.18,131.58 51.14,131.02 52.09,130.40 53.05,129.71 54.01,128.95 54.97,128.10 55.93,127.18 56.88,126.16 57.84,125.06 58.80,123.85 59.76,122.54 60.71,121.13 61.67,119.62 62.63,118.00 63.59,116.29 64.55,114.47 65.50,112.57 66.46,110.59 67.42,108.54 68.38,106.43 69.34,104.28 70.29,102.10 71.25,99.90 72.21,97.71 73.17,95.55 74.13,93.42 75.08,91.34 76.04,89.32 77.00,87.39 77.96,85.53 78.91,83.78 79.87,82.12 80.83,80.56 81.79,79.10 82.75,77.75 83.70,76.50 84.66,75.35 85.62,74.30 86.58,73.33 87.54,72.46 88.49,71.66 89.45,70.94 90.41,70.29 91.37,69.70 92.32,69.17 93.28,68.70 94.24,68.28 95.20,67.90 96.16,67.56 97.11,67.26 98.07,66.99 99.03,66.74 99.99,66.53 100.95,66.34 101.90,66.17 102.86,66.02 103.82,65.89 104.78,65.77 105.74,65.66 106.69,65.57 107.65,65.49 108.61,65.41 109.57,65.35 110.52,65.29 111.48,65.24 112.44,65.20 113.40,65.16 114.36,65.12 115.31,65.09 116.27,65.06 117.23,65.04" fill="none" stroke="#8b2a9b" stroke-width="1.75"/>
<polyline points="52.97,134.01 53.77,133.83 54.57,133.63 55.38,133.42 56.18,133.19 56.98,132.94 57.79,132.67 58.59,132.39 59.39,132.08 60.20,131.75 61.00,131.39 61.80,131.01 62.61,130.59 63.41,130.15 64.21,129.68 65.02,129.17 65.82,128.63 66.62,128.06 67.43,127.44 68.23,126.79 69.03,126.09 69.84,125.36 70.64,124.58 71.44,123.75 72.25,122.88 73.05,121.96 73.85,121.00 74.66,119.99 75.46,118.93 76.26,117.83 77.07,116.68 77.87,115.49 78.67,114.26 79.48,112.98 80.28,111.67 81.08,110.33 81.88,108.95 82.69,107.55 83.49,106.12 84.29,104.68 85.10,103.22 85.90,101.76 86.70,100.28 87.51,98.81 88.31,97.35 89.11,95.89 89.92,94.46 90.72,93.04 91.52,91.64 92.33,90.28 93.13,88.94 93.93,87.65 94.74,86.38 95.54,85.16 96.34,83.99 97.15,82.85 97.95,81.77 98.75,80.72 99.56,79.73 100.36,78.78 101.16,77.88 101.97,77.02 102.77,76.21 103.57,75.45 104.38,74.72 105.18,74.04 105.98,73.40 106.79,72.80 107.59,72.24 108.39,71.71 109.20,71.21 110.00,70.75 110.80,70.32 111.61,69.92 112.41,69.54 113.21,69.19 114.02,68.87 114.82,68.57 115.62,68.29 116.43,68.03 117.23,67.78" fill="none" stroke="#8cbfdd" stroke-width="1.75"/>
<line x1="40.22" y1="132.63" x2="40.22" y2="139.77" stroke="#8b2a9b" stroke-width="1.2" />
<line x1="37.92" y1="132.63" x2="42.52" y2="132.63" stroke="#8b2a9b" stroke-width="1.2" />
<line x1="37.92" y1="139.77" x2="42.52" y2="139.77" stroke="#8b2a9b" stroke-width="1.2" />
<circle cx="40.22" cy="136.20" r="2.2" fill="#8b2a9b"/>
<line x1="53.06" y1="121.93" x2="53.06" y2="126.21" stroke="#8b2a9b" stroke-width="1.2" />
<line x1="50.76" y1="121.93" x2="55.36" y2="121.93" stroke="#8b2a9b" stroke-width="1.2" />
<line x1="50.76" y1="126.21" x2="55.36" y2="126.21" stroke="#8b2a9b" stroke-width="1.2" />
<circle cx="53.06" cy="124.07" r="2.2" fill="#8b2a9b"/>
<line x1="65.89" y1="111.23" x2="65.89" y2="116.94" stroke="#8b2a9b" stroke-width="1.2" />
<line x1="63.59" y1="111.23" x2="68.19" y2="111.23" stroke="#8b2a9b" stroke-width="1.2" />
<line x1="63.59" y1="116.94" x2="68.19" y2="116.94" stroke="#8b2a9b" stroke-width="1.2" />
<circle cx="65.89" cy="114.08" r="2.2" fill="#8b2a9b"/>
<line x1="78.73" y1="79.12" x2="78.73" y2="83.40" stroke="#8b2a9b" stroke-width="1.2" />
<line x1="76.43" y1="79.12" x2="81.03" y2="79.12" stroke="#8b2a9b" stroke-width="1.2" />
<line x1="76.43" y1="83.40" x2="81.03" y2="83.40" stroke="#8b2a9b" stroke-width="1.2" />
<circle cx="78.73" cy="81.26" r="2.2" fill="#8b2a9b"/>
<line x1="91.56" y1="66.99" x2="91.56" y2="76.27" stroke="#8b2a9b" stroke-width="1.2" />
<line x1="89.26" y1="66.99" x2="93.86" y2="66.99" stroke="#8b2a9b" stroke-width="1.2" />
<line x1="89.26" y1="76.27" x2="93.86" y2="76.27" stroke="#8b2a9b" stroke-width="1.2" />
<circle cx="91.56" cy="71.98" r="2.2" fill="#8b2a9b"/>
<circle cx="104.40" cy="64.14" r="2.2" fill="#8b2a9b"/>
<line x1="117.23" y1="56.29" x2="117.23" y2="62.00" stroke="#8b2a9b" stroke-width="1.2" />
<line x1="114.93" y1="56.29" x2="119.53" y2="56.29" stroke="#8b2a9b" stroke-width="1.2" />
<line x1="114.93" y1="62.00" x2="119.53" y2="62.00" stroke="#8b2a9b" stroke-width="1.2" />
<circle cx="117.23" cy="59.14" r="2.2" fill="#8b2a9b"/>
<rect x="38.02" y="121.16" width="4.40" height="4.40" fill="#8cbfdd" stroke="none" stroke-width="0.8" />
<rect x="50.86" y="131.86" width="4.40" height="4.40" fill="#8cbfdd" stroke="none" stroke-width="0.8" />
<rect x="63.69" y="122.58" width="4.40" height="4.40" fill="#8cbfdd" stroke="none" stroke-width="0.8" />
<rect x="76.53" y="110.45" width="4.40" height="4.40" fill="#8cbfdd" stroke="none" stroke-width="0.8" />
<line x1="91.56" y1="85.54" x2="91.56" y2="94.10" stroke="#8cbfdd" stroke-width="1.2" />
<line x1="89.26" y1="85.54" x2="93.86" y2="85.54" stroke="#8cbfdd" stroke-width="1.2" />
<line x1="89.26" y1="94.10" x2="93.86" y2="94.10" stroke="#8cbfdd" stroke-width="1.2" />
<rect x="89.36" y="87.62" width="4.40" height="4.40" fill="#8cbfdd" stroke="none" stroke-width="0.8" />
<rect x="102.20" y="76.21" width="4.40" height="4.40" fill="#8cbfdd" stroke="none" stroke-width="0.8" />
<line x1="117.23" y1="66.99" x2="117.23" y2="71.98" stroke="#8cbfdd" stroke-width="1.2" />
<line x1="114.93" y1="66.99" x2="119.53" y2="66.99" stroke="#8cbfdd" stroke-width="1.2" />
<line x1="114.93" y1="71.98" x2="119.53" y2="71.98" stroke="#8cbfdd" stroke-width="1.2" />
<rect x="115.03" y="67.64" width="4.40" height="4.40" fill="#8cbfdd" stroke="none" stroke-width="0.8" />
<line x1="140.20" y1="56.70" x2="150.40" y2="56.70" stroke="#8b2a9b" stroke-width="1.6" />
<circle cx="145.30" cy="56.70" r="2.0" fill="#8b2a9b"/>
<text x="156.00" y="59.45" font-size="8.4" text-anchor="start" font-weight="normal" fill="#231f20" >YL1004</text>
<text x="156.00" y="68.95" font-size="8.4" text-anchor="start" font-weight="normal" fill="#231f20" >IC<tspan font-size="5.2" dy="0.6">50</tspan><tspan dy="-0.6"> = 22.9 ± 2.0 nM</tspan></text>
<line x1="140.20" y1="77.10" x2="150.40" y2="77.10" stroke="#8cbfdd" stroke-width="1.6" />
<rect x="143.30" y="75.10" width="4.00" height="4.00" fill="#8cbfdd" stroke="none" stroke-width="0.8" />
<text x="156.00" y="79.25" font-size="8.4" text-anchor="start" font-weight="normal" fill="#231f20" >Jun12682</text>
<text x="156.00" y="88.75" font-size="8.4" text-anchor="start" font-weight="normal" fill="#231f20" >IC<tspan font-size="5.2" dy="0.6">50</tspan><tspan dy="-0.6"> = 87.0 ± 9.9 nM</tspan></text>
<text x="319.00" y="38.40" font-size="7.9" text-anchor="middle" font-weight="normal" fill="#231f20" >ISG15-AMC</text>
<line x1="268.20" y1="50.44" x2="268.20" y2="143.86" stroke="#231f20" stroke-width="0.9" />
<line x1="267.80" y1="143.46" x2="375.80" y2="143.46" stroke="#231f20" stroke-width="0.9" />
<line x1="264.40" y1="136.30" x2="268.20" y2="136.30" stroke="#231f20" stroke-width="0.8" />
<text x="263.60" y="138.75" font-size="6.8" text-anchor="end" font-weight="normal" fill="#231f20" >0</text>
<line x1="264.40" y1="121.99" x2="268.20" y2="121.99" stroke="#231f20" stroke-width="0.8" />
<text x="263.60" y="124.44" font-size="6.8" text-anchor="end" font-weight="normal" fill="#231f20" >20</text>
<line x1="264.40" y1="107.68" x2="268.20" y2="107.68" stroke="#231f20" stroke-width="0.8" />
<text x="263.60" y="110.13" font-size="6.8" text-anchor="end" font-weight="normal" fill="#231f20" >40</text>
<line x1="264.40" y1="93.37" x2="268.20" y2="93.37" stroke="#231f20" stroke-width="0.8" />
<text x="263.60" y="95.82" font-size="6.8" text-anchor="end" font-weight="normal" fill="#231f20" >60</text>
<line x1="264.40" y1="79.06" x2="268.20" y2="79.06" stroke="#231f20" stroke-width="0.8" />
<text x="263.60" y="81.51" font-size="6.8" text-anchor="end" font-weight="normal" fill="#231f20" >80</text>
<line x1="264.40" y1="64.75" x2="268.20" y2="64.75" stroke="#231f20" stroke-width="0.8" />
<text x="263.60" y="67.20" font-size="6.8" text-anchor="end" font-weight="normal" fill="#231f20" >100</text>
<line x1="264.40" y1="50.44" x2="268.20" y2="50.44" stroke="#231f20" stroke-width="0.8" />
<text x="263.60" y="52.89" font-size="6.8" text-anchor="end" font-weight="normal" fill="#231f20" >120</text>
<line x1="268.20" y1="143.46" x2="268.20" y2="147.06" stroke="#231f20" stroke-width="0.8" />
<text x="268.20" y="155.46" font-size="6.8" text-anchor="middle" font-weight="normal" fill="#231f20" >0.001</text>
<line x1="295.00" y1="143.46" x2="295.00" y2="147.06" stroke="#231f20" stroke-width="0.8" />
<text x="295.00" y="155.46" font-size="6.8" text-anchor="middle" font-weight="normal" fill="#231f20" >0.01</text>
<line x1="321.80" y1="143.46" x2="321.80" y2="147.06" stroke="#231f20" stroke-width="0.8" />
<text x="321.80" y="155.46" font-size="6.8" text-anchor="middle" font-weight="normal" fill="#231f20" >0.1</text>
<line x1="348.60" y1="143.46" x2="348.60" y2="147.06" stroke="#231f20" stroke-width="0.8" />
<text x="348.60" y="155.46" font-size="6.8" text-anchor="middle" font-weight="normal" fill="#231f20" >1</text>
<line x1="375.40" y1="143.46" x2="375.40" y2="147.06" stroke="#231f20" stroke-width="0.8" />
<text x="375.40" y="155.46" font-size="6.8" text-anchor="middle" font-weight="normal" fill="#231f20" >10</text>
<text x="319.90" y="166.90" font-size="7.8" text-anchor="middle" font-weight="normal" fill="#231f20" >Concentration (µM)</text>
<text transform="translate(244.50,98.00) rotate(-90)" x="0" y="0" font-size="8.0" text-anchor="middle" dominant-baseline="central" fill="#231f20" >Inhibition of PL<tspan font-size="5.4" dy="-3.0" stroke-width="0.1">pro</tspan><tspan dy="3.0"> (%)</tspan></text>
<line x1="269.70" y1="136.30" x2="375.40" y2="136.30" stroke="#231f20" stroke-width="0.8" stroke-dasharray="1,1.6"/>
<polyline points="274.38,133.61 275.33,133.39 276.28,133.16 277.24,132.90 278.19,132.63 279.15,132.33 280.10,132.01 281.06,131.67 282.01,131.30 282.96,130.90 283.92,130.48 284.87,130.03 285.83,129.54 286.78,129.02 287.74,128.47 288.69,127.88 289.65,127.25 290.60,126.58 291.55,125.87 292.51,125.12 293.46,124.33 294.42,123.49 295.37,122.60 296.33,121.67 297.28,120.69 298.23,119.67 299.19,118.60 300.14,117.48 301.10,116.33 302.05,115.12 303.01,113.88 303.96,112.60 304.91,111.28 305.87,109.93 306.82,108.55 307.78,107.15 308.73,105.72 309.69,104.28 310.64,102.82 311.59,101.36 312.55,99.89 313.50,98.43 314.46,96.97 315.41,95.53 316.37,94.10 317.32,92.69 318.27,91.31 319.23,89.95 320.18,88.63 321.14,87.34 322.09,86.10 323.05,84.89 324.00,83.72 324.96,82.60 325.91,81.53 326.86,80.50 327.82,79.51 328.77,78.58 329.73,77.68 330.68,76.84 331.64,76.04 332.59,75.28 333.54,74.56 334.50,73.89 335.45,73.26 336.41,72.66 337.36,72.10 338.32,71.58 339.27,71.09 340.22,70.63 341.18,70.20 342.13,69.80 343.09,69.43 344.04,69.09 345.00,68.76 345.95,68.46 346.90,68.19 347.86,67.93 348.81,67.69 349.77,67.46 350.72,67.26" fill="none" stroke="#8b2a9b" stroke-width="1.75"/>
<polyline points="274.38,135.67 275.33,135.61 276.28,135.54 277.24,135.47 278.19,135.40 279.15,135.31 280.10,135.22 281.06,135.12 282.01,135.01 282.96,134.89 283.92,134.76 284.87,134.62 285.83,134.46 286.78,134.29 287.74,134.11 288.69,133.91 289.65,133.69 290.60,133.46 291.55,133.20 292.51,132.92 293.46,132.62 294.42,132.29 295.37,131.94 296.33,131.55 297.28,131.14 298.23,130.69 299.19,130.20 300.14,129.68 301.10,129.12 302.05,128.52 303.01,127.87 303.96,127.17 304.91,126.43 305.87,125.64 306.82,124.79 307.78,123.89 308.73,122.94 309.69,121.94 310.64,120.87 311.59,119.75 312.55,118.58 313.50,117.35 314.46,116.06 315.41,114.73 316.37,113.35 317.32,111.92 318.27,110.45 319.23,108.94 320.18,107.40 321.14,105.84 322.09,104.25 323.05,102.65 324.00,101.04 324.96,99.42 325.91,97.82 326.86,96.22 327.82,94.64 328.77,93.08 329.73,91.55 330.68,90.06 331.64,88.60 332.59,87.19 333.54,85.83 334.50,84.51 335.45,83.25 336.41,82.04 337.36,80.88 338.32,79.78 339.27,78.74 340.22,77.75 341.18,76.82 342.13,75.94 343.09,75.12 344.04,74.34 345.00,73.62 345.95,72.94 346.90,72.31 347.86,71.72 348.81,71.17 349.77,70.67 350.72,70.19" fill="none" stroke="#8cbfdd" stroke-width="1.75"/>
<circle cx="274.00" cy="127.00" r="2.2" fill="#8b2a9b"/>
<circle cx="286.79" cy="120.56" r="2.2" fill="#8b2a9b"/>
<line x1="299.57" y1="116.27" x2="299.57" y2="124.14" stroke="#8b2a9b" stroke-width="1.2" />
<line x1="297.27" y1="116.27" x2="301.87" y2="116.27" stroke="#8b2a9b" stroke-width="1.2" />
<line x1="297.27" y1="124.14" x2="301.87" y2="124.14" stroke="#8b2a9b" stroke-width="1.2" />
<circle cx="299.57" cy="120.56" r="2.2" fill="#8b2a9b"/>
<line x1="312.36" y1="98.38" x2="312.36" y2="104.82" stroke="#8b2a9b" stroke-width="1.2" />
<line x1="310.06" y1="98.38" x2="314.66" y2="98.38" stroke="#8b2a9b" stroke-width="1.2" />
<line x1="310.06" y1="104.82" x2="314.66" y2="104.82" stroke="#8b2a9b" stroke-width="1.2" />
<circle cx="312.36" cy="101.96" r="2.2" fill="#8b2a9b"/>
<line x1="325.15" y1="79.06" x2="325.15" y2="84.07" stroke="#8b2a9b" stroke-width="1.2" />
<line x1="322.85" y1="79.06" x2="327.45" y2="79.06" stroke="#8b2a9b" stroke-width="1.2" />
<line x1="322.85" y1="84.07" x2="327.45" y2="84.07" stroke="#8b2a9b" stroke-width="1.2" />
<circle cx="325.15" cy="81.92" r="2.2" fill="#8b2a9b"/>
<line x1="337.94" y1="61.89" x2="337.94" y2="78.34" stroke="#8b2a9b" stroke-width="1.2" />
<line x1="335.64" y1="61.89" x2="340.24" y2="61.89" stroke="#8b2a9b" stroke-width="1.2" />
<line x1="335.64" y1="78.34" x2="340.24" y2="78.34" stroke="#8b2a9b" stroke-width="1.2" />
<circle cx="337.94" cy="70.47" r="2.2" fill="#8b2a9b"/>
<line x1="350.72" y1="54.02" x2="350.72" y2="62.60" stroke="#8b2a9b" stroke-width="1.2" />
<line x1="348.42" y1="54.02" x2="353.02" y2="54.02" stroke="#8b2a9b" stroke-width="1.2" />
<line x1="348.42" y1="62.60" x2="353.02" y2="62.60" stroke="#8b2a9b" stroke-width="1.2" />
<circle cx="350.72" cy="58.31" r="2.2" fill="#8b2a9b"/>
<rect x="271.80" y="136.25" width="4.40" height="4.40" fill="#8cbfdd" stroke="none" stroke-width="0.8" />
<rect x="284.59" y="126.95" width="4.40" height="4.40" fill="#8cbfdd" stroke="none" stroke-width="0.8" />
<line x1="299.57" y1="129.15" x2="299.57" y2="136.30" stroke="#8cbfdd" stroke-width="1.2" />
<line x1="297.27" y1="129.15" x2="301.87" y2="129.15" stroke="#8cbfdd" stroke-width="1.2" />
<line x1="297.27" y1="136.30" x2="301.87" y2="136.30" stroke="#8cbfdd" stroke-width="1.2" />
<rect x="297.37" y="129.09" width="4.40" height="4.40" fill="#8cbfdd" stroke="none" stroke-width="0.8" />
<rect x="310.16" y="121.94" width="4.40" height="4.40" fill="#8cbfdd" stroke="none" stroke-width="0.8" />
<line x1="325.15" y1="86.93" x2="325.15" y2="96.95" stroke="#8cbfdd" stroke-width="1.2" />
<line x1="322.85" y1="86.93" x2="327.45" y2="86.93" stroke="#8cbfdd" stroke-width="1.2" />
<line x1="322.85" y1="96.95" x2="327.45" y2="96.95" stroke="#8cbfdd" stroke-width="1.2" />
<rect x="322.95" y="87.59" width="4.40" height="4.40" fill="#8cbfdd" stroke="none" stroke-width="0.8" />
<rect x="335.74" y="81.15" width="4.40" height="4.40" fill="#8cbfdd" stroke="none" stroke-width="0.8" />
<rect x="348.52" y="74.00" width="4.40" height="4.40" fill="#8cbfdd" stroke="none" stroke-width="0.8" />
<line x1="374.20" y1="56.60" x2="385.10" y2="56.60" stroke="#8b2a9b" stroke-width="1.6" />
<circle cx="379.65" cy="56.60" r="2.0" fill="#8b2a9b"/>
<text x="390.70" y="59.35" font-size="8.4" text-anchor="start" font-weight="normal" fill="#231f20" >YL1004</text>
<text x="390.70" y="68.85" font-size="8.4" text-anchor="start" font-weight="normal" fill="#231f20" >IC<tspan font-size="5.2" dy="0.6">50</tspan><tspan dy="-0.6"> = 43.6 ± 3.6 nM</tspan></text>
<line x1="374.20" y1="77.00" x2="385.10" y2="77.00" stroke="#8cbfdd" stroke-width="1.6" />
<rect x="377.65" y="75.00" width="4.00" height="4.00" fill="#8cbfdd" stroke="none" stroke-width="0.8" />
<text x="390.70" y="79.15" font-size="8.4" text-anchor="start" font-weight="normal" fill="#231f20" >Jun12682</text>
<text x="390.70" y="88.65" font-size="8.4" text-anchor="start" font-weight="normal" fill="#231f20" >IC<tspan font-size="5.2" dy="0.6">50</tspan><tspan dy="-0.6"> = 124.0 ± 20.5 nM</tspan></text>
<line x1="37.20" y1="390.60" x2="37.20" y2="474.20" stroke="#231f20" stroke-width="1.1" />
<line x1="36.70" y1="473.60" x2="161.70" y2="473.60" stroke="#231f20" stroke-width="1.3" />
<line x1="33.40" y1="473.60" x2="37.20" y2="473.60" stroke="#231f20" stroke-width="0.8" />
<text x="32.60" y="476.05" font-size="6.8" text-anchor="end" font-weight="normal" fill="#231f20" >0.0</text>
<line x1="33.40" y1="459.77" x2="37.20" y2="459.77" stroke="#231f20" stroke-width="0.8" />
<text x="32.60" y="462.22" font-size="6.8" text-anchor="end" font-weight="normal" fill="#231f20" >0.2</text>
<line x1="33.40" y1="445.93" x2="37.20" y2="445.93" stroke="#231f20" stroke-width="0.8" />
<text x="32.60" y="448.38" font-size="6.8" text-anchor="end" font-weight="normal" fill="#231f20" >0.4</text>
<line x1="33.40" y1="432.10" x2="37.20" y2="432.10" stroke="#231f20" stroke-width="0.8" />
<text x="32.60" y="434.55" font-size="6.8" text-anchor="end" font-weight="normal" fill="#231f20" >0.6</text>
<line x1="33.40" y1="418.27" x2="37.20" y2="418.27" stroke="#231f20" stroke-width="0.8" />
<text x="32.60" y="420.72" font-size="6.8" text-anchor="end" font-weight="normal" fill="#231f20" >0.8</text>
<line x1="33.40" y1="404.43" x2="37.20" y2="404.43" stroke="#231f20" stroke-width="0.8" />
<text x="32.60" y="406.88" font-size="6.8" text-anchor="end" font-weight="normal" fill="#231f20" >1.0</text>
<line x1="33.40" y1="390.60" x2="37.20" y2="390.60" stroke="#231f20" stroke-width="0.8" />
<text x="32.60" y="393.05" font-size="6.8" text-anchor="end" font-weight="normal" fill="#231f20" >1.2</text>
<text x="40.00" y="387.8" font-size="7.9" fill="#231f20" text-decoration="underline">NF-κB-luc</text>
<rect x="41.15" y="407.20" width="6.30" height="66.40" fill="#f2e2f6" stroke="#9433ac" stroke-width="1.15" />
<rect x="52.15" y="409.97" width="6.30" height="63.63" fill="#f2e2f6" stroke="#9433ac" stroke-width="1.15" />
<rect x="63.15" y="407.89" width="6.30" height="65.71" fill="#f2e2f6" stroke="#9433ac" stroke-width="1.15" />
<rect x="74.15" y="416.19" width="6.30" height="57.41" fill="#f2e2f6" stroke="#9433ac" stroke-width="1.15" />
<rect x="85.15" y="432.10" width="6.30" height="41.50" fill="#f2e2f6" stroke="#9433ac" stroke-width="1.15" />
<rect x="96.15" y="445.24" width="6.30" height="28.36" fill="#f2e2f6" stroke="#9433ac" stroke-width="1.15" />
<rect x="107.15" y="449.39" width="6.30" height="24.21" fill="#f2e2f6" stroke="#9433ac" stroke-width="1.15" />
<rect x="118.15" y="452.85" width="6.30" height="20.75" fill="#f2e2f6" stroke="#9433ac" stroke-width="1.15" />
<rect x="129.15" y="455.62" width="6.30" height="17.98" fill="#f2e2f6" stroke="#9433ac" stroke-width="1.15" />
<rect x="140.15" y="404.43" width="6.30" height="69.17" fill="#ffffff" stroke="#e29af2" stroke-width="1.15" />
<rect x="151.15" y="473.60" width="6.30" height="0.00" fill="#ffffff" stroke="#888888" stroke-width="1.15" />
<line x1="77.30" y1="412.73" x2="77.30" y2="418.27" stroke="#9433ac" stroke-width="1.1" />
<line x1="75.50" y1="412.73" x2="79.10" y2="412.73" stroke="#9433ac" stroke-width="1.1" />
<line x1="75.50" y1="418.27" x2="79.10" y2="418.27" stroke="#9433ac" stroke-width="1.1" />
<circle cx="42.30" cy="407.20" r="1.95" fill="#fff" stroke="#9433ac" stroke-width="1.1"/>
<circle cx="44.50" cy="405.47" r="1.95" fill="#fff" stroke="#9433ac" stroke-width="1.1"/>
<circle cx="46.30" cy="406.85" r="1.95" fill="#fff" stroke="#9433ac" stroke-width="1.1"/>
<circle cx="53.70" cy="408.58" r="1.95" fill="#fff" stroke="#9433ac" stroke-width="1.1"/>
<circle cx="55.30" cy="411.00" r="1.95" fill="#fff" stroke="#9433ac" stroke-width="1.1"/>
<circle cx="57.30" cy="410.31" r="1.95" fill="#fff" stroke="#9433ac" stroke-width="1.1"/>
<circle cx="64.70" cy="405.47" r="1.95" fill="#fff" stroke="#9433ac" stroke-width="1.1"/>
<circle cx="66.50" cy="408.93" r="1.95" fill="#fff" stroke="#9433ac" stroke-width="1.1"/>
<circle cx="68.30" cy="406.85" r="1.95" fill="#fff" stroke="#9433ac" stroke-width="1.1"/>
<circle cx="75.30" cy="416.88" r="1.95" fill="#fff" stroke="#9433ac" stroke-width="1.1"/>
<circle cx="77.30" cy="411.35" r="1.95" fill="#fff" stroke="#9433ac" stroke-width="1.1"/>
<circle cx="79.30" cy="416.19" r="1.95" fill="#fff" stroke="#9433ac" stroke-width="1.1"/>
<circle cx="86.30" cy="433.14" r="1.95" fill="#fff" stroke="#9433ac" stroke-width="1.1"/>
<circle cx="88.30" cy="430.37" r="1.95" fill="#fff" stroke="#9433ac" stroke-width="1.1"/>
<circle cx="90.30" cy="432.10" r="1.95" fill="#fff" stroke="#9433ac" stroke-width="1.1"/>
<circle cx="97.30" cy="445.59" r="1.95" fill="#fff" stroke="#9433ac" stroke-width="1.1"/>
<circle cx="99.30" cy="444.20" r="1.95" fill="#fff" stroke="#9433ac" stroke-width="1.1"/>
<circle cx="101.30" cy="444.55" r="1.95" fill="#fff" stroke="#9433ac" stroke-width="1.1"/>
<circle cx="108.70" cy="449.74" r="1.95" fill="#fff" stroke="#9433ac" stroke-width="1.1"/>
<circle cx="110.30" cy="449.05" r="1.95" fill="#fff" stroke="#9433ac" stroke-width="1.1"/>
<circle cx="112.30" cy="449.39" r="1.95" fill="#fff" stroke="#9433ac" stroke-width="1.1"/>
<circle cx="119.30" cy="453.54" r="1.95" fill="#fff" stroke="#9433ac" stroke-width="1.1"/>
<circle cx="121.30" cy="451.47" r="1.95" fill="#fff" stroke="#9433ac" stroke-width="1.1"/>
<circle cx="123.30" cy="453.54" r="1.95" fill="#fff" stroke="#9433ac" stroke-width="1.1"/>
<circle cx="130.30" cy="456.65" r="1.95" fill="#fff" stroke="#9433ac" stroke-width="1.1"/>
<circle cx="132.30" cy="454.58" r="1.95" fill="#fff" stroke="#9433ac" stroke-width="1.1"/>
<circle cx="134.30" cy="455.62" r="1.95" fill="#fff" stroke="#9433ac" stroke-width="1.1"/>
<circle cx="141.30" cy="404.78" r="1.95" fill="#fff" stroke="#e29af2" stroke-width="1.1"/>
<circle cx="143.30" cy="403.40" r="1.95" fill="#fff" stroke="#e29af2" stroke-width="1.1"/>
<circle cx="145.30" cy="404.78" r="1.95" fill="#fff" stroke="#e29af2" stroke-width="1.1"/>
<circle cx="152.30" cy="473.25" r="1.95" fill="#fff" stroke="#888888" stroke-width="1.1"/>
<circle cx="154.30" cy="473.60" r="1.95" fill="#fff" stroke="#888888" stroke-width="1.1"/>
<circle cx="156.30" cy="473.25" r="1.95" fill="#fff" stroke="#888888" stroke-width="1.1"/>
<line x1="44.30" y1="473.60" x2="44.30" y2="477.20" stroke="#231f20" stroke-width="0.9" />
<text transform="translate(46.35,478.70) rotate(-90)" font-size="6.15" text-anchor="end" fill="#231f20">10.000</text>
<line x1="55.30" y1="473.60" x2="55.30" y2="477.20" stroke="#231f20" stroke-width="0.9" />
<text transform="translate(57.35,478.70) rotate(-90)" font-size="6.15" text-anchor="end" fill="#231f20">2.500</text>
<line x1="66.30" y1="473.60" x2="66.30" y2="477.20" stroke="#231f20" stroke-width="0.9" />
<text transform="translate(68.35,478.70) rotate(-90)" font-size="6.15" text-anchor="end" fill="#231f20">0.625</text>
<line x1="77.30" y1="473.60" x2="77.30" y2="477.20" stroke="#231f20" stroke-width="0.9" />
<text transform="translate(79.35,478.70) rotate(-90)" font-size="6.15" text-anchor="end" fill="#231f20">0.156</text>
<line x1="88.30" y1="473.60" x2="88.30" y2="477.20" stroke="#231f20" stroke-width="0.9" />
<text transform="translate(90.35,478.70) rotate(-90)" font-size="6.15" text-anchor="end" fill="#231f20">0.039</text>
<line x1="99.30" y1="473.60" x2="99.30" y2="477.20" stroke="#231f20" stroke-width="0.9" />
<text transform="translate(101.35,478.70) rotate(-90)" font-size="6.15" text-anchor="end" fill="#231f20">0.010</text>
<line x1="110.30" y1="473.60" x2="110.30" y2="477.20" stroke="#231f20" stroke-width="0.9" />
<text transform="translate(112.35,478.70) rotate(-90)" font-size="6.15" text-anchor="end" fill="#231f20">0.002</text>
<line x1="121.30" y1="473.60" x2="121.30" y2="477.20" stroke="#231f20" stroke-width="0.9" />
<text transform="translate(123.35,478.70) rotate(-90)" font-size="6.15" text-anchor="end" fill="#231f20">0.001</text>
<line x1="132.30" y1="473.60" x2="132.30" y2="477.20" stroke="#231f20" stroke-width="0.9" />
<text transform="translate(134.35,478.70) rotate(-90)" font-size="6.15" text-anchor="end" fill="#231f20">DMSO</text>
<line x1="143.30" y1="473.60" x2="143.30" y2="477.20" stroke="#231f20" stroke-width="0.9" />
<text transform="translate(145.35,478.70) rotate(-90)" font-size="6.15" text-anchor="end" fill="#231f20">DMSO</text>
<line x1="154.30" y1="473.60" x2="154.30" y2="477.20" stroke="#231f20" stroke-width="0.9" />
<text transform="translate(156.35,478.70) rotate(-90)" font-size="6.15" text-anchor="end" fill="#231f20">DMSO</text>
<text transform="translate(11.60,435.60) rotate(-90)" x="0" y="0" font-size="7.0" text-anchor="middle" dominant-baseline="central" fill="#231f20" >Fold change in luciferase</text>
<text transform="translate(18.60,434.40) rotate(-90)" x="0" y="0" font-size="7.15" text-anchor="middle" dominant-baseline="central" fill="#231f20" >expression (NF-κB)</text>
<text x="58.30" y="399.70" font-size="8.25" text-anchor="start" font-weight="normal" fill="#231f20" >EC<tspan font-size="5.3" dy="0.6">50</tspan><tspan dy="-0.6"> = 44.1 ± 1.6 nM</tspan></text>
<line x1="40.50" y1="500.00" x2="123.40" y2="500.00" stroke="#999" stroke-width="0.9" />
<text x="81.95" y="507.60" font-size="7.0" text-anchor="middle" font-weight="normal" fill="#231f20" >YL1004 (µM)</text>
<line x1="139.00" y1="500.00" x2="157.60" y2="500.00" stroke="#999" stroke-width="0.9" />
<text x="148.30" y="507.60" font-size="7.0" text-anchor="middle" font-weight="normal" fill="#231f20" >Vector</text>
<line x1="40.50" y1="511.30" x2="137.30" y2="511.30" stroke="#333" stroke-width="0.9" />
<text x="88.90" y="518.60" font-size="7.0" text-anchor="middle" font-weight="normal" fill="#231f20" >PL<tspan font-size="4" dy="-2.4" stroke-width="0.08">pro</tspan></text>
<line x1="40.50" y1="522.00" x2="148.40" y2="522.00" stroke="#333" stroke-width="0.9" />
<text x="94.45" y="530.00" font-size="7.0" text-anchor="middle" font-weight="normal" fill="#231f20" >TNF-α</text>
<line x1="208.50" y1="390.60" x2="208.50" y2="474.00" stroke="#231f20" stroke-width="1.1" />
<line x1="208.00" y1="473.40" x2="332.80" y2="473.40" stroke="#231f20" stroke-width="1.3" />
<line x1="204.70" y1="473.40" x2="208.50" y2="473.40" stroke="#231f20" stroke-width="0.8" />
<text x="203.90" y="475.85" font-size="6.8" text-anchor="end" font-weight="normal" fill="#231f20" >0.0</text>
<line x1="204.70" y1="459.60" x2="208.50" y2="459.60" stroke="#231f20" stroke-width="0.8" />
<text x="203.90" y="462.05" font-size="6.8" text-anchor="end" font-weight="normal" fill="#231f20" >0.2</text>
<line x1="204.70" y1="445.80" x2="208.50" y2="445.80" stroke="#231f20" stroke-width="0.8" />
<text x="203.90" y="448.25" font-size="6.8" text-anchor="end" font-weight="normal" fill="#231f20" >0.4</text>
<line x1="204.70" y1="432.00" x2="208.50" y2="432.00" stroke="#231f20" stroke-width="0.8" />
<text x="203.90" y="434.45" font-size="6.8" text-anchor="end" font-weight="normal" fill="#231f20" >0.6</text>
<line x1="204.70" y1="418.20" x2="208.50" y2="418.20" stroke="#231f20" stroke-width="0.8" />
<text x="203.90" y="420.65" font-size="6.8" text-anchor="end" font-weight="normal" fill="#231f20" >0.8</text>
<line x1="204.70" y1="404.40" x2="208.50" y2="404.40" stroke="#231f20" stroke-width="0.8" />
<text x="203.90" y="406.85" font-size="6.8" text-anchor="end" font-weight="normal" fill="#231f20" >1.0</text>
<line x1="204.70" y1="390.60" x2="208.50" y2="390.60" stroke="#231f20" stroke-width="0.8" />
<text x="203.90" y="393.05" font-size="6.8" text-anchor="end" font-weight="normal" fill="#231f20" >1.2</text>
<text x="211.70" y="387.8" font-size="7.9" fill="#231f20" text-decoration="underline">ISRE-luc</text>
<rect x="211.75" y="405.09" width="6.30" height="68.31" fill="#cde1f6" stroke="#2d4a9a" stroke-width="1.15" />
<rect x="222.80" y="410.61" width="6.30" height="62.79" fill="#cde1f6" stroke="#2d4a9a" stroke-width="1.15" />
<rect x="233.85" y="422.34" width="6.30" height="51.06" fill="#cde1f6" stroke="#2d4a9a" stroke-width="1.15" />
<rect x="244.90" y="440.28" width="6.30" height="33.12" fill="#cde1f6" stroke="#2d4a9a" stroke-width="1.15" />
<rect x="255.95" y="458.91" width="6.30" height="14.49" fill="#cde1f6" stroke="#2d4a9a" stroke-width="1.15" />
<rect x="267.00" y="463.05" width="6.30" height="10.35" fill="#cde1f6" stroke="#2d4a9a" stroke-width="1.15" />
<rect x="278.05" y="464.43" width="6.30" height="8.97" fill="#cde1f6" stroke="#2d4a9a" stroke-width="1.15" />
<rect x="289.10" y="466.50" width="6.30" height="6.90" fill="#cde1f6" stroke="#2d4a9a" stroke-width="1.15" />
<rect x="300.15" y="466.50" width="6.30" height="6.90" fill="#cde1f6" stroke="#2d4a9a" stroke-width="1.15" />
<rect x="311.20" y="411.30" width="6.30" height="62.10" fill="#ffffff" stroke="#8dbcf5" stroke-width="1.15" />
<rect x="322.25" y="473.40" width="6.30" height="0.00" fill="#ffffff" stroke="#888888" stroke-width="1.15" />
<line x1="214.90" y1="401.64" x2="214.90" y2="407.85" stroke="#2d4a9a" stroke-width="1.1" />
<line x1="213.10" y1="401.64" x2="216.70" y2="401.64" stroke="#2d4a9a" stroke-width="1.1" />
<line x1="213.10" y1="407.85" x2="216.70" y2="407.85" stroke="#2d4a9a" stroke-width="1.1" />
<line x1="225.95" y1="405.09" x2="225.95" y2="416.13" stroke="#2d4a9a" stroke-width="1.1" />
<line x1="224.15" y1="405.09" x2="227.75" y2="405.09" stroke="#2d4a9a" stroke-width="1.1" />
<line x1="224.15" y1="416.13" x2="227.75" y2="416.13" stroke="#2d4a9a" stroke-width="1.1" />
<line x1="237.00" y1="418.20" x2="237.00" y2="425.79" stroke="#2d4a9a" stroke-width="1.1" />
<line x1="235.20" y1="418.20" x2="238.80" y2="418.20" stroke="#2d4a9a" stroke-width="1.1" />
<line x1="235.20" y1="425.79" x2="238.80" y2="425.79" stroke="#2d4a9a" stroke-width="1.1" />
<line x1="314.35" y1="409.23" x2="314.35" y2="413.37" stroke="#8dbcf5" stroke-width="1.1" />
<line x1="312.55" y1="409.23" x2="316.15" y2="409.23" stroke="#8dbcf5" stroke-width="1.1" />
<line x1="312.55" y1="413.37" x2="316.15" y2="413.37" stroke="#8dbcf5" stroke-width="1.1" />
<circle cx="212.90" cy="406.47" r="1.95" fill="#fff" stroke="#2d4a9a" stroke-width="1.1"/>
<circle cx="214.90" cy="400.95" r="1.95" fill="#fff" stroke="#2d4a9a" stroke-width="1.1"/>
<circle cx="216.90" cy="405.09" r="1.95" fill="#fff" stroke="#2d4a9a" stroke-width="1.1"/>
<circle cx="223.95" cy="406.47" r="1.95" fill="#fff" stroke="#2d4a9a" stroke-width="1.1"/>
<circle cx="225.95" cy="416.82" r="1.95" fill="#fff" stroke="#2d4a9a" stroke-width="1.1"/>
<circle cx="227.95" cy="407.16" r="1.95" fill="#fff" stroke="#2d4a9a" stroke-width="1.1"/>
<circle cx="235.00" cy="418.89" r="1.95" fill="#fff" stroke="#2d4a9a" stroke-width="1.1"/>
<circle cx="237.00" cy="426.48" r="1.95" fill="#fff" stroke="#2d4a9a" stroke-width="1.1"/>
<circle cx="239.00" cy="421.65" r="1.95" fill="#fff" stroke="#2d4a9a" stroke-width="1.1"/>
<circle cx="246.05" cy="440.28" r="1.95" fill="#fff" stroke="#2d4a9a" stroke-width="1.1"/>
<circle cx="248.05" cy="439.94" r="1.95" fill="#fff" stroke="#2d4a9a" stroke-width="1.1"/>
<circle cx="250.05" cy="439.59" r="1.95" fill="#fff" stroke="#2d4a9a" stroke-width="1.1"/>
<circle cx="257.10" cy="458.22" r="1.95" fill="#fff" stroke="#2d4a9a" stroke-width="1.1"/>
<circle cx="259.10" cy="457.53" r="1.95" fill="#fff" stroke="#2d4a9a" stroke-width="1.1"/>
<circle cx="261.10" cy="458.91" r="1.95" fill="#fff" stroke="#2d4a9a" stroke-width="1.1"/>
<circle cx="268.15" cy="463.05" r="1.95" fill="#fff" stroke="#2d4a9a" stroke-width="1.1"/>
<circle cx="270.15" cy="462.70" r="1.95" fill="#fff" stroke="#2d4a9a" stroke-width="1.1"/>
<circle cx="272.15" cy="463.05" r="1.95" fill="#fff" stroke="#2d4a9a" stroke-width="1.1"/>
<circle cx="279.20" cy="464.77" r="1.95" fill="#fff" stroke="#2d4a9a" stroke-width="1.1"/>
<circle cx="281.20" cy="464.08" r="1.95" fill="#fff" stroke="#2d4a9a" stroke-width="1.1"/>
<circle cx="283.20" cy="464.43" r="1.95" fill="#fff" stroke="#2d4a9a" stroke-width="1.1"/>
<circle cx="290.25" cy="466.84" r="1.95" fill="#fff" stroke="#2d4a9a" stroke-width="1.1"/>
<circle cx="292.25" cy="465.81" r="1.95" fill="#fff" stroke="#2d4a9a" stroke-width="1.1"/>
<circle cx="294.25" cy="466.50" r="1.95" fill="#fff" stroke="#2d4a9a" stroke-width="1.1"/>
<circle cx="301.30" cy="466.50" r="1.95" fill="#fff" stroke="#2d4a9a" stroke-width="1.1"/>
<circle cx="303.30" cy="466.50" r="1.95" fill="#fff" stroke="#2d4a9a" stroke-width="1.1"/>
<circle cx="305.30" cy="466.50" r="1.95" fill="#fff" stroke="#2d4a9a" stroke-width="1.1"/>
<circle cx="312.35" cy="409.23" r="1.95" fill="#fff" stroke="#8dbcf5" stroke-width="1.1"/>
<circle cx="314.35" cy="413.37" r="1.95" fill="#fff" stroke="#8dbcf5" stroke-width="1.1"/>
<circle cx="316.35" cy="409.92" r="1.95" fill="#fff" stroke="#8dbcf5" stroke-width="1.1"/>
<circle cx="323.40" cy="473.05" r="1.95" fill="#fff" stroke="#888888" stroke-width="1.1"/>
<circle cx="325.40" cy="473.40" r="1.95" fill="#fff" stroke="#888888" stroke-width="1.1"/>
<circle cx="327.40" cy="473.05" r="1.95" fill="#fff" stroke="#888888" stroke-width="1.1"/>
<line x1="214.90" y1="473.40" x2="214.90" y2="477.00" stroke="#231f20" stroke-width="0.9" />
<text transform="translate(216.95,478.50) rotate(-90)" font-size="6.15" text-anchor="end" fill="#231f20">10.000</text>
<line x1="225.95" y1="473.40" x2="225.95" y2="477.00" stroke="#231f20" stroke-width="0.9" />
<text transform="translate(228.00,478.50) rotate(-90)" font-size="6.15" text-anchor="end" fill="#231f20">2.500</text>
<line x1="237.00" y1="473.40" x2="237.00" y2="477.00" stroke="#231f20" stroke-width="0.9" />
<text transform="translate(239.05,478.50) rotate(-90)" font-size="6.15" text-anchor="end" fill="#231f20">0.625</text>
<line x1="248.05" y1="473.40" x2="248.05" y2="477.00" stroke="#231f20" stroke-width="0.9" />
<text transform="translate(250.10,478.50) rotate(-90)" font-size="6.15" text-anchor="end" fill="#231f20">0.156</text>
<line x1="259.10" y1="473.40" x2="259.10" y2="477.00" stroke="#231f20" stroke-width="0.9" />
<text transform="translate(261.15,478.50) rotate(-90)" font-size="6.15" text-anchor="end" fill="#231f20">0.039</text>
<line x1="270.15" y1="473.40" x2="270.15" y2="477.00" stroke="#231f20" stroke-width="0.9" />
<text transform="translate(272.20,478.50) rotate(-90)" font-size="6.15" text-anchor="end" fill="#231f20">0.010</text>
<line x1="281.20" y1="473.40" x2="281.20" y2="477.00" stroke="#231f20" stroke-width="0.9" />
<text transform="translate(283.25,478.50) rotate(-90)" font-size="6.15" text-anchor="end" fill="#231f20">0.002</text>
<line x1="292.25" y1="473.40" x2="292.25" y2="477.00" stroke="#231f20" stroke-width="0.9" />
<text transform="translate(294.30,478.50) rotate(-90)" font-size="6.15" text-anchor="end" fill="#231f20">0.001</text>
<line x1="303.30" y1="473.40" x2="303.30" y2="477.00" stroke="#231f20" stroke-width="0.9" />
<text transform="translate(305.35,478.50) rotate(-90)" font-size="6.15" text-anchor="end" fill="#231f20">DMSO</text>
<line x1="314.35" y1="473.40" x2="314.35" y2="477.00" stroke="#231f20" stroke-width="0.9" />
<text transform="translate(316.40,478.50) rotate(-90)" font-size="6.15" text-anchor="end" fill="#231f20">DMSO</text>
<line x1="325.40" y1="473.40" x2="325.40" y2="477.00" stroke="#231f20" stroke-width="0.9" />
<text transform="translate(327.45,478.50) rotate(-90)" font-size="6.15" text-anchor="end" fill="#231f20">DMSO</text>
<text transform="translate(180.50,435.60) rotate(-90)" x="0" y="0" font-size="7.0" text-anchor="middle" dominant-baseline="central" fill="#231f20" >Fold change in luciferase</text>
<text transform="translate(188.90,434.40) rotate(-90)" x="0" y="0" font-size="7.15" text-anchor="middle" dominant-baseline="central" fill="#231f20" >expression (ISRE)</text>
<text x="222.60" y="399.70" font-size="8.25" text-anchor="start" font-weight="normal" fill="#231f20" >EC<tspan font-size="5.3" dy="0.6">50</tspan><tspan dy="-0.6"> = 265.3 ± 43.2 nM</tspan></text>
<line x1="211.00" y1="500.00" x2="293.60" y2="500.00" stroke="#333" stroke-width="0.9" />
<text x="252.30" y="507.60" font-size="7.0" text-anchor="middle" font-weight="normal" fill="#231f20" >YL1004 (µM)</text>
<line x1="310.20" y1="500.00" x2="327.60" y2="500.00" stroke="#333" stroke-width="0.9" />
<text x="318.90" y="507.60" font-size="7.0" text-anchor="middle" font-weight="normal" fill="#231f20" >Vector</text>
<line x1="211.00" y1="511.30" x2="307.70" y2="511.30" stroke="#333" stroke-width="0.9" />
<text x="259.35" y="518.60" font-size="7.0" text-anchor="middle" font-weight="normal" fill="#231f20" >PL<tspan font-size="4" dy="-2.4" stroke-width="0.08">pro</tspan></text>
<line x1="211.00" y1="522.00" x2="318.90" y2="522.00" stroke="#333" stroke-width="0.9" />
<text x="264.95" y="530.00" font-size="7.0" text-anchor="middle" font-weight="normal" fill="#231f20" >IFN-α</text>
<line x1="381.00" y1="391.00" x2="381.00" y2="474.70" stroke="#231f20" stroke-width="1.1" />
<line x1="380.50" y1="474.10" x2="506.40" y2="474.10" stroke="#231f20" stroke-width="1.3" />
<line x1="377.20" y1="474.10" x2="381.00" y2="474.10" stroke="#231f20" stroke-width="0.8" />
<text x="376.40" y="476.55" font-size="6.8" text-anchor="end" font-weight="normal" fill="#231f20" >0.0</text>
<line x1="377.20" y1="457.48" x2="381.00" y2="457.48" stroke="#231f20" stroke-width="0.8" />
<text x="376.40" y="459.93" font-size="6.8" text-anchor="end" font-weight="normal" fill="#231f20" >0.3</text>
<line x1="377.20" y1="440.86" x2="381.00" y2="440.86" stroke="#231f20" stroke-width="0.8" />
<text x="376.40" y="443.31" font-size="6.8" text-anchor="end" font-weight="normal" fill="#231f20" >0.6</text>
<line x1="377.20" y1="424.24" x2="381.00" y2="424.24" stroke="#231f20" stroke-width="0.8" />
<text x="376.40" y="426.69" font-size="6.8" text-anchor="end" font-weight="normal" fill="#231f20" >0.9</text>
<line x1="377.20" y1="407.62" x2="381.00" y2="407.62" stroke="#231f20" stroke-width="0.8" />
<text x="376.40" y="410.07" font-size="6.8" text-anchor="end" font-weight="normal" fill="#231f20" >1.2</text>
<line x1="377.20" y1="391.00" x2="381.00" y2="391.00" stroke="#231f20" stroke-width="0.8" />
<text x="376.40" y="393.45" font-size="6.8" text-anchor="end" font-weight="normal" fill="#231f20" >1.5</text>
<text x="384.20" y="387.8" font-size="7.9" fill="#231f20" text-decoration="underline">IFNB1-luc</text>
<rect x="385.45" y="411.50" width="6.30" height="62.60" fill="#ebe6dc" stroke="#7a6a45" stroke-width="1.15" />
<rect x="396.49" y="410.94" width="6.30" height="63.16" fill="#ebe6dc" stroke="#7a6a45" stroke-width="1.15" />
<rect x="407.53" y="417.59" width="6.30" height="56.51" fill="#ebe6dc" stroke="#7a6a45" stroke-width="1.15" />
<rect x="418.57" y="422.02" width="6.30" height="52.08" fill="#ebe6dc" stroke="#7a6a45" stroke-width="1.15" />
<rect x="429.61" y="430.33" width="6.30" height="43.77" fill="#ebe6dc" stroke="#7a6a45" stroke-width="1.15" />
<rect x="440.65" y="437.54" width="6.30" height="36.56" fill="#ebe6dc" stroke="#7a6a45" stroke-width="1.15" />
<rect x="451.69" y="445.29" width="6.30" height="28.81" fill="#ebe6dc" stroke="#7a6a45" stroke-width="1.15" />
<rect x="462.73" y="448.06" width="6.30" height="26.04" fill="#ebe6dc" stroke="#7a6a45" stroke-width="1.15" />
<rect x="473.77" y="452.49" width="6.30" height="21.61" fill="#ebe6dc" stroke="#7a6a45" stroke-width="1.15" />
<rect x="484.81" y="411.50" width="6.30" height="62.60" fill="#ffffff" stroke="#c8a870" stroke-width="1.15" />
<rect x="495.85" y="472.99" width="6.30" height="1.11" fill="#ffffff" stroke="#888888" stroke-width="1.15" />
<line x1="399.64" y1="398.76" x2="399.64" y2="421.47" stroke="#7a6a45" stroke-width="1.1" />
<line x1="397.84" y1="398.76" x2="401.44" y2="398.76" stroke="#7a6a45" stroke-width="1.1" />
<line x1="397.84" y1="421.47" x2="401.44" y2="421.47" stroke="#7a6a45" stroke-width="1.1" />
<line x1="410.68" y1="413.16" x2="410.68" y2="422.02" stroke="#7a6a45" stroke-width="1.1" />
<line x1="408.88" y1="413.16" x2="412.48" y2="413.16" stroke="#7a6a45" stroke-width="1.1" />
<line x1="408.88" y1="422.02" x2="412.48" y2="422.02" stroke="#7a6a45" stroke-width="1.1" />
<line x1="421.72" y1="415.93" x2="421.72" y2="426.46" stroke="#7a6a45" stroke-width="1.1" />
<line x1="419.92" y1="415.93" x2="423.52" y2="415.93" stroke="#7a6a45" stroke-width="1.1" />
<line x1="419.92" y1="426.46" x2="423.52" y2="426.46" stroke="#7a6a45" stroke-width="1.1" />
<line x1="454.84" y1="443.08" x2="454.84" y2="447.51" stroke="#7a6a45" stroke-width="1.1" />
<line x1="453.04" y1="443.08" x2="456.64" y2="443.08" stroke="#7a6a45" stroke-width="1.1" />
<line x1="453.04" y1="447.51" x2="456.64" y2="447.51" stroke="#7a6a45" stroke-width="1.1" />
<line x1="487.96" y1="404.85" x2="487.96" y2="419.81" stroke="#c8a870" stroke-width="1.1" />
<line x1="486.16" y1="404.85" x2="489.76" y2="404.85" stroke="#c8a870" stroke-width="1.1" />
<line x1="486.16" y1="419.81" x2="489.76" y2="419.81" stroke="#c8a870" stroke-width="1.1" />
<circle cx="386.60" cy="412.05" r="1.95" fill="#fff" stroke="#7a6a45" stroke-width="1.1"/>
<circle cx="388.60" cy="410.39" r="1.95" fill="#fff" stroke="#7a6a45" stroke-width="1.1"/>
<circle cx="390.60" cy="411.50" r="1.95" fill="#fff" stroke="#7a6a45" stroke-width="1.1"/>
<circle cx="397.64" cy="411.50" r="1.95" fill="#fff" stroke="#7a6a45" stroke-width="1.1"/>
<circle cx="399.64" cy="398.76" r="1.95" fill="#fff" stroke="#7a6a45" stroke-width="1.1"/>
<circle cx="401.64" cy="421.47" r="1.95" fill="#fff" stroke="#7a6a45" stroke-width="1.1"/>
<circle cx="408.68" cy="414.27" r="1.95" fill="#fff" stroke="#7a6a45" stroke-width="1.1"/>
<circle cx="410.68" cy="413.16" r="1.95" fill="#fff" stroke="#7a6a45" stroke-width="1.1"/>
<circle cx="412.68" cy="423.13" r="1.95" fill="#fff" stroke="#7a6a45" stroke-width="1.1"/>
<circle cx="419.72" cy="424.24" r="1.95" fill="#fff" stroke="#7a6a45" stroke-width="1.1"/>
<circle cx="421.72" cy="415.93" r="1.95" fill="#fff" stroke="#7a6a45" stroke-width="1.1"/>
<circle cx="423.72" cy="424.24" r="1.95" fill="#fff" stroke="#7a6a45" stroke-width="1.1"/>
<circle cx="430.76" cy="430.33" r="1.95" fill="#fff" stroke="#7a6a45" stroke-width="1.1"/>
<circle cx="432.76" cy="429.78" r="1.95" fill="#fff" stroke="#7a6a45" stroke-width="1.1"/>
<circle cx="434.76" cy="430.33" r="1.95" fill="#fff" stroke="#7a6a45" stroke-width="1.1"/>
<circle cx="441.80" cy="437.54" r="1.95" fill="#fff" stroke="#7a6a45" stroke-width="1.1"/>
<circle cx="443.80" cy="436.43" r="1.95" fill="#fff" stroke="#7a6a45" stroke-width="1.1"/>
<circle cx="445.80" cy="438.09" r="1.95" fill="#fff" stroke="#7a6a45" stroke-width="1.1"/>
<circle cx="452.84" cy="443.63" r="1.95" fill="#fff" stroke="#7a6a45" stroke-width="1.1"/>
<circle cx="454.84" cy="447.51" r="1.95" fill="#fff" stroke="#7a6a45" stroke-width="1.1"/>
<circle cx="456.84" cy="445.29" r="1.95" fill="#fff" stroke="#7a6a45" stroke-width="1.1"/>
<circle cx="463.88" cy="448.06" r="1.95" fill="#fff" stroke="#7a6a45" stroke-width="1.1"/>
<circle cx="465.88" cy="447.51" r="1.95" fill="#fff" stroke="#7a6a45" stroke-width="1.1"/>
<circle cx="467.88" cy="448.06" r="1.95" fill="#fff" stroke="#7a6a45" stroke-width="1.1"/>
<circle cx="474.92" cy="453.05" r="1.95" fill="#fff" stroke="#7a6a45" stroke-width="1.1"/>
<circle cx="476.92" cy="452.22" r="1.95" fill="#fff" stroke="#7a6a45" stroke-width="1.1"/>
<circle cx="478.92" cy="453.05" r="1.95" fill="#fff" stroke="#7a6a45" stroke-width="1.1"/>
<circle cx="485.96" cy="408.73" r="1.95" fill="#fff" stroke="#c8a870" stroke-width="1.1"/>
<circle cx="487.96" cy="404.85" r="1.95" fill="#fff" stroke="#c8a870" stroke-width="1.1"/>
<circle cx="489.96" cy="419.81" r="1.95" fill="#fff" stroke="#c8a870" stroke-width="1.1"/>
<circle cx="497.00" cy="472.99" r="1.95" fill="#fff" stroke="#888888" stroke-width="1.1"/>
<circle cx="499.00" cy="472.99" r="1.95" fill="#fff" stroke="#888888" stroke-width="1.1"/>
<circle cx="501.00" cy="472.99" r="1.95" fill="#fff" stroke="#888888" stroke-width="1.1"/>
<line x1="388.60" y1="474.10" x2="388.60" y2="477.70" stroke="#231f20" stroke-width="0.9" />
<text transform="translate(390.65,479.20) rotate(-90)" font-size="6.15" text-anchor="end" fill="#231f20">10.000</text>
<line x1="399.64" y1="474.10" x2="399.64" y2="477.70" stroke="#231f20" stroke-width="0.9" />
<text transform="translate(401.69,479.20) rotate(-90)" font-size="6.15" text-anchor="end" fill="#231f20">2.500</text>
<line x1="410.68" y1="474.10" x2="410.68" y2="477.70" stroke="#231f20" stroke-width="0.9" />
<text transform="translate(412.73,479.20) rotate(-90)" font-size="6.15" text-anchor="end" fill="#231f20">0.625</text>
<line x1="421.72" y1="474.10" x2="421.72" y2="477.70" stroke="#231f20" stroke-width="0.9" />
<text transform="translate(423.77,479.20) rotate(-90)" font-size="6.15" text-anchor="end" fill="#231f20">0.156</text>
<line x1="432.76" y1="474.10" x2="432.76" y2="477.70" stroke="#231f20" stroke-width="0.9" />
<text transform="translate(434.81,479.20) rotate(-90)" font-size="6.15" text-anchor="end" fill="#231f20">0.039</text>
<line x1="443.80" y1="474.10" x2="443.80" y2="477.70" stroke="#231f20" stroke-width="0.9" />
<text transform="translate(445.85,479.20) rotate(-90)" font-size="6.15" text-anchor="end" fill="#231f20">0.010</text>
<line x1="454.84" y1="474.10" x2="454.84" y2="477.70" stroke="#231f20" stroke-width="0.9" />
<text transform="translate(456.89,479.20) rotate(-90)" font-size="6.15" text-anchor="end" fill="#231f20">0.002</text>
<line x1="465.88" y1="474.10" x2="465.88" y2="477.70" stroke="#231f20" stroke-width="0.9" />
<text transform="translate(467.93,479.20) rotate(-90)" font-size="6.15" text-anchor="end" fill="#231f20">0.001</text>
<line x1="476.92" y1="474.10" x2="476.92" y2="477.70" stroke="#231f20" stroke-width="0.9" />
<text transform="translate(478.97,479.20) rotate(-90)" font-size="6.15" text-anchor="end" fill="#231f20">DMSO</text>
<line x1="487.96" y1="474.10" x2="487.96" y2="477.70" stroke="#231f20" stroke-width="0.9" />
<text transform="translate(490.01,479.20) rotate(-90)" font-size="6.15" text-anchor="end" fill="#231f20">DMSO</text>
<line x1="499.00" y1="474.10" x2="499.00" y2="477.70" stroke="#231f20" stroke-width="0.9" />
<text transform="translate(501.05,479.20) rotate(-90)" font-size="6.15" text-anchor="end" fill="#231f20">DMSO</text>
<text transform="translate(354.30,435.60) rotate(-90)" x="0" y="0" font-size="7.0" text-anchor="middle" dominant-baseline="central" fill="#231f20" >Fold change in luciferase</text>
<text transform="translate(362.40,434.40) rotate(-90)" x="0" y="0" font-size="7.15" text-anchor="middle" dominant-baseline="central" fill="#231f20" >expression (IFN-β)</text>
<text x="403.30" y="399.70" font-size="8.25" text-anchor="start" font-weight="normal" fill="#231f20" >EC<tspan font-size="5.3" dy="0.6">50</tspan><tspan dy="-0.6"> = 26.5 ± 9.3 nM</tspan></text>
<line x1="384.70" y1="500.00" x2="467.80" y2="500.00" stroke="#333" stroke-width="0.9" />
<text x="426.25" y="507.60" font-size="7.0" text-anchor="middle" font-weight="normal" fill="#231f20" >YL1004 (µM)</text>
<line x1="483.50" y1="500.00" x2="501.80" y2="500.00" stroke="#333" stroke-width="0.9" />
<text x="492.65" y="507.60" font-size="7.0" text-anchor="middle" font-weight="normal" fill="#231f20" >Vector</text>
<line x1="384.70" y1="511.30" x2="481.50" y2="511.30" stroke="#333" stroke-width="0.9" />
<text x="433.10" y="518.60" font-size="7.0" text-anchor="middle" font-weight="normal" fill="#231f20" >PL<tspan font-size="4" dy="-2.4" stroke-width="0.08">pro</tspan></text>
<line x1="384.70" y1="522.00" x2="492.60" y2="522.00" stroke="#333" stroke-width="0.9" />
<text x="438.65" y="530.00" font-size="7.0" text-anchor="middle" font-weight="normal" fill="#231f20" >poly (I:C)</text>
<line x1="556.80" y1="391.30" x2="556.80" y2="474.80" stroke="#231f20" stroke-width="1.1" />
<line x1="556.30" y1="474.20" x2="682.30" y2="474.20" stroke="#231f20" stroke-width="1.3" />
<line x1="553.00" y1="474.20" x2="556.80" y2="474.20" stroke="#231f20" stroke-width="0.8" />
<text x="552.20" y="476.65" font-size="6.8" text-anchor="end" font-weight="normal" fill="#231f20" >0.0</text>
<line x1="553.00" y1="460.38" x2="556.80" y2="460.38" stroke="#231f20" stroke-width="0.8" />
<text x="552.20" y="462.83" font-size="6.8" text-anchor="end" font-weight="normal" fill="#231f20" >0.2</text>
<line x1="553.00" y1="446.57" x2="556.80" y2="446.57" stroke="#231f20" stroke-width="0.8" />
<text x="552.20" y="449.02" font-size="6.8" text-anchor="end" font-weight="normal" fill="#231f20" >0.4</text>
<line x1="553.00" y1="432.75" x2="556.80" y2="432.75" stroke="#231f20" stroke-width="0.8" />
<text x="552.20" y="435.20" font-size="6.8" text-anchor="end" font-weight="normal" fill="#231f20" >0.6</text>
<line x1="553.00" y1="418.93" x2="556.80" y2="418.93" stroke="#231f20" stroke-width="0.8" />
<text x="552.20" y="421.38" font-size="6.8" text-anchor="end" font-weight="normal" fill="#231f20" >0.8</text>
<line x1="553.00" y1="405.12" x2="556.80" y2="405.12" stroke="#231f20" stroke-width="0.8" />
<text x="552.20" y="407.57" font-size="6.8" text-anchor="end" font-weight="normal" fill="#231f20" >1.0</text>
<line x1="553.00" y1="391.30" x2="556.80" y2="391.30" stroke="#231f20" stroke-width="0.8" />
<text x="552.20" y="393.75" font-size="6.8" text-anchor="end" font-weight="normal" fill="#231f20" >1.2</text>
<text x="559.80" y="387.8" font-size="7.9" fill="#231f20" text-decoration="underline">IRF3-luc</text>
<rect x="560.75" y="406.50" width="6.30" height="67.70" fill="#f5dad8" stroke="#ea3f33" stroke-width="1.15" />
<rect x="571.85" y="407.88" width="6.30" height="66.32" fill="#f5dad8" stroke="#ea3f33" stroke-width="1.15" />
<rect x="582.95" y="415.48" width="6.30" height="58.72" fill="#f5dad8" stroke="#ea3f33" stroke-width="1.15" />
<rect x="594.05" y="428.61" width="6.30" height="45.59" fill="#f5dad8" stroke="#ea3f33" stroke-width="1.15" />
<rect x="605.15" y="443.80" width="6.30" height="30.40" fill="#f5dad8" stroke="#ea3f33" stroke-width="1.15" />
<rect x="616.25" y="446.57" width="6.30" height="27.63" fill="#f5dad8" stroke="#ea3f33" stroke-width="1.15" />
<rect x="627.35" y="446.57" width="6.30" height="27.63" fill="#f5dad8" stroke="#ea3f33" stroke-width="1.15" />
<rect x="638.45" y="445.19" width="6.30" height="29.01" fill="#f5dad8" stroke="#ea3f33" stroke-width="1.15" />
<rect x="649.55" y="451.40" width="6.30" height="22.80" fill="#f5dad8" stroke="#ea3f33" stroke-width="1.15" />
<rect x="660.65" y="403.74" width="6.30" height="70.46" fill="#ffffff" stroke="#f08a82" stroke-width="1.15" />
<rect x="671.75" y="472.82" width="6.30" height="1.38" fill="#ffffff" stroke="#888888" stroke-width="1.15" />
<line x1="563.90" y1="401.66" x2="563.90" y2="410.64" stroke="#ea3f33" stroke-width="1.1" />
<line x1="562.10" y1="401.66" x2="565.70" y2="401.66" stroke="#ea3f33" stroke-width="1.1" />
<line x1="562.10" y1="410.64" x2="565.70" y2="410.64" stroke="#ea3f33" stroke-width="1.1" />
<line x1="575.00" y1="399.59" x2="575.00" y2="411.33" stroke="#ea3f33" stroke-width="1.1" />
<line x1="573.20" y1="399.59" x2="576.80" y2="399.59" stroke="#ea3f33" stroke-width="1.1" />
<line x1="573.20" y1="411.33" x2="576.80" y2="411.33" stroke="#ea3f33" stroke-width="1.1" />
<line x1="619.40" y1="442.42" x2="619.40" y2="447.95" stroke="#ea3f33" stroke-width="1.1" />
<line x1="617.60" y1="442.42" x2="621.20" y2="442.42" stroke="#ea3f33" stroke-width="1.1" />
<line x1="617.60" y1="447.95" x2="621.20" y2="447.95" stroke="#ea3f33" stroke-width="1.1" />
<line x1="630.50" y1="441.73" x2="630.50" y2="447.95" stroke="#ea3f33" stroke-width="1.1" />
<line x1="628.70" y1="441.73" x2="632.30" y2="441.73" stroke="#ea3f33" stroke-width="1.1" />
<line x1="628.70" y1="447.95" x2="632.30" y2="447.95" stroke="#ea3f33" stroke-width="1.1" />
<line x1="663.80" y1="401.66" x2="663.80" y2="406.50" stroke="#f08a82" stroke-width="1.1" />
<line x1="662.00" y1="401.66" x2="665.60" y2="401.66" stroke="#f08a82" stroke-width="1.1" />
<line x1="662.00" y1="406.50" x2="665.60" y2="406.50" stroke="#f08a82" stroke-width="1.1" />
<circle cx="561.90" cy="406.50" r="1.95" fill="#fff" stroke="#ea3f33" stroke-width="1.1"/>
<circle cx="563.90" cy="401.66" r="1.95" fill="#fff" stroke="#ea3f33" stroke-width="1.1"/>
<circle cx="565.90" cy="409.95" r="1.95" fill="#fff" stroke="#ea3f33" stroke-width="1.1"/>
<circle cx="573.00" cy="408.57" r="1.95" fill="#fff" stroke="#ea3f33" stroke-width="1.1"/>
<circle cx="575.00" cy="399.59" r="1.95" fill="#fff" stroke="#ea3f33" stroke-width="1.1"/>
<circle cx="577.00" cy="408.57" r="1.95" fill="#fff" stroke="#ea3f33" stroke-width="1.1"/>
<circle cx="584.10" cy="414.10" r="1.95" fill="#fff" stroke="#ea3f33" stroke-width="1.1"/>
<circle cx="586.10" cy="417.55" r="1.95" fill="#fff" stroke="#ea3f33" stroke-width="1.1"/>
<circle cx="588.10" cy="414.79" r="1.95" fill="#fff" stroke="#ea3f33" stroke-width="1.1"/>
<circle cx="595.20" cy="428.61" r="1.95" fill="#fff" stroke="#ea3f33" stroke-width="1.1"/>
<circle cx="597.20" cy="426.53" r="1.95" fill="#fff" stroke="#ea3f33" stroke-width="1.1"/>
<circle cx="599.20" cy="427.91" r="1.95" fill="#fff" stroke="#ea3f33" stroke-width="1.1"/>
<circle cx="606.30" cy="443.11" r="1.95" fill="#fff" stroke="#ea3f33" stroke-width="1.1"/>
<circle cx="608.30" cy="442.42" r="1.95" fill="#fff" stroke="#ea3f33" stroke-width="1.1"/>
<circle cx="610.30" cy="443.11" r="1.95" fill="#fff" stroke="#ea3f33" stroke-width="1.1"/>
<circle cx="617.40" cy="446.57" r="1.95" fill="#fff" stroke="#ea3f33" stroke-width="1.1"/>
<circle cx="619.40" cy="442.42" r="1.95" fill="#fff" stroke="#ea3f33" stroke-width="1.1"/>
<circle cx="621.40" cy="446.57" r="1.95" fill="#fff" stroke="#ea3f33" stroke-width="1.1"/>
<circle cx="628.50" cy="446.57" r="1.95" fill="#fff" stroke="#ea3f33" stroke-width="1.1"/>
<circle cx="630.50" cy="441.73" r="1.95" fill="#fff" stroke="#ea3f33" stroke-width="1.1"/>
<circle cx="632.50" cy="446.57" r="1.95" fill="#fff" stroke="#ea3f33" stroke-width="1.1"/>
<circle cx="639.60" cy="444.49" r="1.95" fill="#fff" stroke="#ea3f33" stroke-width="1.1"/>
<circle cx="641.60" cy="443.11" r="1.95" fill="#fff" stroke="#ea3f33" stroke-width="1.1"/>
<circle cx="643.60" cy="445.19" r="1.95" fill="#fff" stroke="#ea3f33" stroke-width="1.1"/>
<circle cx="650.70" cy="449.33" r="1.95" fill="#fff" stroke="#ea3f33" stroke-width="1.1"/>
<circle cx="652.70" cy="451.40" r="1.95" fill="#fff" stroke="#ea3f33" stroke-width="1.1"/>
<circle cx="654.70" cy="450.71" r="1.95" fill="#fff" stroke="#ea3f33" stroke-width="1.1"/>
<circle cx="661.80" cy="403.74" r="1.95" fill="#fff" stroke="#f08a82" stroke-width="1.1"/>
<circle cx="663.80" cy="401.66" r="1.95" fill="#fff" stroke="#f08a82" stroke-width="1.1"/>
<circle cx="665.80" cy="406.50" r="1.95" fill="#fff" stroke="#f08a82" stroke-width="1.1"/>
<circle cx="672.90" cy="472.82" r="1.95" fill="#fff" stroke="#888888" stroke-width="1.1"/>
<circle cx="674.90" cy="472.82" r="1.95" fill="#fff" stroke="#888888" stroke-width="1.1"/>
<circle cx="676.90" cy="472.82" r="1.95" fill="#fff" stroke="#888888" stroke-width="1.1"/>
<line x1="563.90" y1="474.20" x2="563.90" y2="477.80" stroke="#231f20" stroke-width="0.9" />
<text transform="translate(565.95,479.30) rotate(-90)" font-size="6.15" text-anchor="end" fill="#231f20">10.000</text>
<line x1="575.00" y1="474.20" x2="575.00" y2="477.80" stroke="#231f20" stroke-width="0.9" />
<text transform="translate(577.05,479.30) rotate(-90)" font-size="6.15" text-anchor="end" fill="#231f20">2.500</text>
<line x1="586.10" y1="474.20" x2="586.10" y2="477.80" stroke="#231f20" stroke-width="0.9" />
<text transform="translate(588.15,479.30) rotate(-90)" font-size="6.15" text-anchor="end" fill="#231f20">0.625</text>
<line x1="597.20" y1="474.20" x2="597.20" y2="477.80" stroke="#231f20" stroke-width="0.9" />
<text transform="translate(599.25,479.30) rotate(-90)" font-size="6.15" text-anchor="end" fill="#231f20">0.156</text>
<line x1="608.30" y1="474.20" x2="608.30" y2="477.80" stroke="#231f20" stroke-width="0.9" />
<text transform="translate(610.35,479.30) rotate(-90)" font-size="6.15" text-anchor="end" fill="#231f20">0.039</text>
<line x1="619.40" y1="474.20" x2="619.40" y2="477.80" stroke="#231f20" stroke-width="0.9" />
<text transform="translate(621.45,479.30) rotate(-90)" font-size="6.15" text-anchor="end" fill="#231f20">0.010</text>
<line x1="630.50" y1="474.20" x2="630.50" y2="477.80" stroke="#231f20" stroke-width="0.9" />
<text transform="translate(632.55,479.30) rotate(-90)" font-size="6.15" text-anchor="end" fill="#231f20">0.002</text>
<line x1="641.60" y1="474.20" x2="641.60" y2="477.80" stroke="#231f20" stroke-width="0.9" />
<text transform="translate(643.65,479.30) rotate(-90)" font-size="6.15" text-anchor="end" fill="#231f20">0.001</text>
<line x1="652.70" y1="474.20" x2="652.70" y2="477.80" stroke="#231f20" stroke-width="0.9" />
<text transform="translate(654.75,479.30) rotate(-90)" font-size="6.15" text-anchor="end" fill="#231f20">DMSO</text>
<line x1="663.80" y1="474.20" x2="663.80" y2="477.80" stroke="#231f20" stroke-width="0.9" />
<text transform="translate(665.85,479.30) rotate(-90)" font-size="6.15" text-anchor="end" fill="#231f20">DMSO</text>
<line x1="674.90" y1="474.20" x2="674.90" y2="477.80" stroke="#231f20" stroke-width="0.9" />
<text transform="translate(676.95,479.30) rotate(-90)" font-size="6.15" text-anchor="end" fill="#231f20">DMSO</text>
<text transform="translate(529.30,435.60) rotate(-90)" x="0" y="0" font-size="7.0" text-anchor="middle" dominant-baseline="central" fill="#231f20" >Fold change in luciferase</text>
<text transform="translate(537.80,434.40) rotate(-90)" x="0" y="0" font-size="7.15" text-anchor="middle" dominant-baseline="central" fill="#231f20" >expression (IRF3)</text>
<text x="578.50" y="399.70" font-size="8.25" text-anchor="start" font-weight="normal" fill="#231f20" >EC<tspan font-size="5.3" dy="0.6">50</tspan><tspan dy="-0.6"> = 206.9 ± 55.6 nM</tspan></text>
<line x1="559.80" y1="500.00" x2="642.30" y2="500.00" stroke="#333" stroke-width="0.9" />
<text x="601.05" y="507.60" font-size="7.0" text-anchor="middle" font-weight="normal" fill="#231f20" >YL1004 (µM)</text>
<line x1="659.00" y1="500.00" x2="677.30" y2="500.00" stroke="#333" stroke-width="0.9" />
<text x="668.15" y="507.60" font-size="7.0" text-anchor="middle" font-weight="normal" fill="#231f20" >Vector</text>
<line x1="559.80" y1="511.30" x2="656.40" y2="511.30" stroke="#333" stroke-width="0.9" />
<text x="608.10" y="518.60" font-size="7.0" text-anchor="middle" font-weight="normal" fill="#231f20" >PL<tspan font-size="4" dy="-2.4" stroke-width="0.08">pro</tspan></text>
<line x1="559.80" y1="522.00" x2="667.60" y2="522.00" stroke="#333" stroke-width="0.9" />
<text x="613.70" y="530.00" font-size="7.0" text-anchor="middle" font-weight="normal" fill="#231f20" >poly (I:C)</text>
<rect x="492.30" y="36.20" width="156.30" height="109.00" fill="#fff" stroke="#222" stroke-width="0.9" />
<g>
<rect x="500.60" y="98.00" width="9.00" height="45.00" rx="1.2" fill="url(#lg1)" filter="url(#bl1)" opacity="1.0"/>
<rect x="512.60" y="39.80" width="11.20" height="102.70" rx="1.2" fill="url(#lg2)" filter="url(#bl1)" opacity="1.0"/>
<rect x="526.40" y="39.80" width="9.80" height="102.70" rx="1.2" fill="url(#lg3)" filter="url(#bl1)" opacity="1.0"/>
<rect x="539.10" y="39.80" width="10.60" height="102.70" rx="1.2" fill="url(#lg4)" filter="url(#bl1)" opacity="1.0"/>
<rect x="552.00" y="39.80" width="11.00" height="102.70" rx="1.2" fill="url(#lg5)" filter="url(#bl1)" opacity="1.0"/>
<rect x="565.30" y="39.80" width="10.60" height="102.70" rx="1.2" fill="url(#lg6)" filter="url(#bl1)" opacity="1.0"/>
<rect x="578.40" y="39.80" width="10.60" height="102.70" rx="1.2" fill="url(#lg7)" filter="url(#bl1)" opacity="1.0"/>
<rect x="591.50" y="39.80" width="10.60" height="102.70" rx="1.2" fill="url(#lg8)" filter="url(#bl1)" opacity="1.0"/>
<rect x="604.60" y="39.80" width="10.60" height="102.70" rx="1.2" fill="url(#lg9)" filter="url(#bl1)" opacity="1.0"/>
<rect x="617.70" y="39.80" width="10.60" height="102.70" rx="1.2" fill="url(#lg10)" filter="url(#bl1)" opacity="1.0"/>
<rect x="631.10" y="39.80" width="10.00" height="102.70" rx="1.2" fill="url(#lg11)" filter="url(#bl1)" opacity="1.0"/>
<ellipse cx="596.80" cy="140.50" rx="4.80" ry="1.00" fill="#464646" filter="url(#bl2)" opacity="1.0"/>
<ellipse cx="609.90" cy="140.50" rx="4.80" ry="1.00" fill="#464646" filter="url(#bl2)" opacity="1.0"/>
<ellipse cx="623.00" cy="140.50" rx="4.80" ry="1.00" fill="#464646" filter="url(#bl2)" opacity="1.0"/>
</g>
<line x1="489.70" y1="56.30" x2="492.30" y2="56.30" stroke="#231f20" stroke-width="0.8" />
<text x="489.50" y="58.65" font-size="6.6" text-anchor="end" font-weight="normal" fill="#231f20" >180</text>
<line x1="489.70" y1="65.20" x2="492.30" y2="65.20" stroke="#231f20" stroke-width="0.8" />
<text x="489.50" y="67.55" font-size="6.6" text-anchor="end" font-weight="normal" fill="#231f20" >130</text>
<line x1="489.70" y1="78.00" x2="492.30" y2="78.00" stroke="#231f20" stroke-width="0.8" />
<text x="489.50" y="80.35" font-size="6.6" text-anchor="end" font-weight="normal" fill="#231f20" >95</text>
<line x1="489.70" y1="89.20" x2="492.30" y2="89.20" stroke="#231f20" stroke-width="0.8" />
<text x="489.50" y="91.55" font-size="6.6" text-anchor="end" font-weight="normal" fill="#231f20" >72</text>
<line x1="489.70" y1="101.10" x2="492.30" y2="101.10" stroke="#231f20" stroke-width="0.8" />
<text x="489.50" y="103.45" font-size="6.6" text-anchor="end" font-weight="normal" fill="#231f20" >55</text>
<line x1="489.70" y1="113.70" x2="492.30" y2="113.70" stroke="#231f20" stroke-width="0.8" />
<text x="489.50" y="116.05" font-size="6.6" text-anchor="end" font-weight="normal" fill="#231f20" >43</text>
<line x1="489.70" y1="127.50" x2="492.30" y2="127.50" stroke="#231f20" stroke-width="0.8" />
<text x="489.50" y="129.85" font-size="6.6" text-anchor="end" font-weight="normal" fill="#231f20" >33</text>
<line x1="489.70" y1="135.60" x2="492.30" y2="135.60" stroke="#231f20" stroke-width="0.8" />
<text x="489.50" y="137.95" font-size="6.6" text-anchor="end" font-weight="normal" fill="#231f20" >25</text>
<text x="489.80" y="41.20" font-size="6.6" text-anchor="end" font-weight="normal" fill="#231f20" >kDa</text>
<rect x="492.30" y="146.40" width="156.30" height="14.50" fill="#d9d9d9" stroke="#222" stroke-width="0.9" />
<rect x="523.00" y="152.50" width="122.00" height="3.00" rx="1.50" fill="#1e1e1e" filter="url(#bl2)" opacity="1.0"/>
<rect x="521.50" y="151.85" width="13.00" height="4.30" rx="2.15" fill="#0a0a0a" filter="url(#bl2)" opacity="1.0"/>
<rect x="534.30" y="151.85" width="13.00" height="4.30" rx="2.15" fill="#0a0a0a" filter="url(#bl2)" opacity="1.0"/>
<rect x="548.50" y="151.85" width="15.00" height="4.30" rx="2.15" fill="#0a0a0a" filter="url(#bl2)" opacity="1.0"/>
<rect x="564.50" y="151.85" width="13.00" height="4.30" rx="2.15" fill="#0a0a0a" filter="url(#bl2)" opacity="1.0"/>
<rect x="579.05" y="151.85" width="11.50" height="4.30" rx="2.15" fill="#0a0a0a" filter="url(#bl2)" opacity="1.0"/>
<rect x="591.50" y="151.85" width="12.00" height="4.30" rx="2.15" fill="#0a0a0a" filter="url(#bl2)" opacity="1.0"/>
<rect x="604.50" y="151.85" width="13.00" height="4.30" rx="2.15" fill="#0a0a0a" filter="url(#bl2)" opacity="1.0"/>
<rect x="618.50" y="151.85" width="13.00" height="4.30" rx="2.15" fill="#0a0a0a" filter="url(#bl2)" opacity="1.0"/>
<rect x="633.00" y="151.85" width="13.00" height="4.30" rx="2.15" fill="#0a0a0a" filter="url(#bl2)" opacity="1.0"/>
<line x1="489.70" y1="157.20" x2="492.30" y2="157.20" stroke="#231f20" stroke-width="0.8" />
<text x="489.50" y="159.55" font-size="6.6" text-anchor="end" font-weight="normal" fill="#231f20" >33</text>
<rect x="492.30" y="163.20" width="156.30" height="13.40" fill="#bababa" stroke="#222" stroke-width="0.9" />
<rect x="494.00" y="168.00" width="152.50" height="3.60" rx="1.80" fill="#141414" filter="url(#bl2)" opacity="1.0"/>
<rect x="493.90" y="167.30" width="13.20" height="5.00" rx="2.50" fill="#080808" filter="url(#bl2)" opacity="1.0"/>
<rect x="506.80" y="167.30" width="13.20" height="5.00" rx="2.50" fill="#080808" filter="url(#bl2)" opacity="1.0"/>
<rect x="520.80" y="167.30" width="13.20" height="5.00" rx="2.50" fill="#080808" filter="url(#bl2)" opacity="1.0"/>
<rect x="536.00" y="167.30" width="13.20" height="5.00" rx="2.50" fill="#080808" filter="url(#bl2)" opacity="1.0"/>
<rect x="548.80" y="167.30" width="13.20" height="5.00" rx="2.50" fill="#080808" filter="url(#bl2)" opacity="1.0"/>
<rect x="561.70" y="167.30" width="13.20" height="5.00" rx="2.50" fill="#080808" filter="url(#bl2)" opacity="1.0"/>
<rect x="575.70" y="167.30" width="13.20" height="5.00" rx="2.50" fill="#080808" filter="url(#bl2)" opacity="1.0"/>
<rect x="589.70" y="167.30" width="13.20" height="5.00" rx="2.50" fill="#080808" filter="url(#bl2)" opacity="1.0"/>
<rect x="602.50" y="167.30" width="13.20" height="5.00" rx="2.50" fill="#080808" filter="url(#bl2)" opacity="1.0"/>
<rect x="616.50" y="167.30" width="13.20" height="5.00" rx="2.50" fill="#080808" filter="url(#bl2)" opacity="1.0"/>
<rect x="631.70" y="167.30" width="13.20" height="5.00" rx="2.50" fill="#080808" filter="url(#bl2)" opacity="1.0"/>
<line x1="489.70" y1="166.30" x2="492.30" y2="166.30" stroke="#231f20" stroke-width="0.8" />
<text x="489.50" y="168.65" font-size="6.6" text-anchor="end" font-weight="normal" fill="#231f20" >43</text>
<text x="577.30" y="8.00" font-size="6.8" text-anchor="middle" font-weight="normal" fill="#231f20" >Ub-HA</text>
<line x1="513.00" y1="9.80" x2="643.00" y2="9.80" stroke="#231f20" stroke-width="0.8" />
<text x="590.00" y="17.00" font-size="7.0" text-anchor="middle" font-weight="normal" fill="#231f20" >Flag-PL<tspan font-size="4.4" dy="-2.6" stroke-width="0.08">pro</tspan></text>
<line x1="526.40" y1="18.80" x2="643.00" y2="18.80" stroke="#231f20" stroke-width="0.8" />
<text x="505.60" y="26.80" font-size="6.8" text-anchor="middle" font-weight="normal" fill="#231f20" >-</text>
<text x="518.40" y="26.80" font-size="6.8" text-anchor="middle" font-weight="normal" fill="#231f20" >-</text>
<text x="531.60" y="26.80" font-size="6.8" text-anchor="middle" font-weight="normal" fill="#231f20" >-</text>
<text x="544.20" y="26.80" font-size="6.8" text-anchor="middle" font-weight="normal" fill="#231f20" >-</text>
<text x="557.40" y="26.80" font-size="6.8" text-anchor="middle" font-weight="normal" fill="#231f20" >10</text>
<text x="570.30" y="26.80" font-size="6.8" text-anchor="middle" font-weight="normal" fill="#231f20" >1</text>
<text x="583.20" y="26.80" font-size="6.8" text-anchor="middle" font-weight="normal" fill="#231f20" >0.5</text>
<text x="596.50" y="26.80" font-size="6.8" text-anchor="middle" font-weight="normal" fill="#231f20" >0.25</text>
<text x="609.40" y="26.80" font-size="6.8" text-anchor="middle" font-weight="normal" fill="#231f20" >0.1</text>
<text x="622.50" y="26.80" font-size="6.8" text-anchor="middle" font-weight="normal" fill="#231f20" >0.05</text>
<text x="636.40" y="26.80" font-size="6.8" text-anchor="middle" font-weight="normal" fill="#231f20" >0.01</text>
<text x="505.60" y="33.90" font-size="6.8" text-anchor="middle" font-weight="normal" fill="#231f20" >-</text>
<text x="518.40" y="33.90" font-size="6.8" text-anchor="middle" font-weight="normal" fill="#231f20" >-</text>
<text x="531.60" y="33.90" font-size="6.8" text-anchor="middle" font-weight="normal" fill="#231f20" >-</text>
<text x="544.20" y="33.90" font-size="6.8" text-anchor="middle" font-weight="normal" fill="#231f20" >10</text>
<text x="557.40" y="33.90" font-size="6.8" text-anchor="middle" font-weight="normal" fill="#231f20" >-</text>
<text x="570.30" y="33.90" font-size="6.8" text-anchor="middle" font-weight="normal" fill="#231f20" >-</text>
<text x="583.20" y="33.90" font-size="6.8" text-anchor="middle" font-weight="normal" fill="#231f20" >-</text>
<text x="596.50" y="33.90" font-size="6.8" text-anchor="middle" font-weight="normal" fill="#231f20" >-</text>
<text x="609.40" y="33.90" font-size="6.8" text-anchor="middle" font-weight="normal" fill="#231f20" >-</text>
<text x="622.50" y="33.90" font-size="6.8" text-anchor="middle" font-weight="normal" fill="#231f20" >-</text>
<text x="636.40" y="33.90" font-size="6.8" text-anchor="middle" font-weight="normal" fill="#231f20" >-</text>
<text x="649.00" y="26.90" font-size="6.8" text-anchor="start" font-weight="normal" fill="#231f20" >YL1004</text>
<text x="649.00" y="33.90" font-size="6.8" text-anchor="start" font-weight="normal" fill="#231f20" >Jun12682</text>
<text x="492.30" y="34.00" font-size="6.6" text-anchor="end" font-weight="normal" fill="#231f20" >(µM)</text>
<text x="650.00" y="92.30" font-size="6.8" text-anchor="start" font-weight="normal" fill="#231f20" >Ub-HA</text>
<text x="650.00" y="101.10" font-size="6.8" text-anchor="start" font-weight="normal" fill="#231f20" >(anti HA)</text>
<text x="650.00" y="153.30" font-size="6.8" text-anchor="start" font-weight="normal" fill="#231f20" >Flag-PL<tspan font-size="3.8" dy="-2.4" stroke-width="0.08">pro</tspan></text>
<text x="650.00" y="161.80" font-size="6.8" text-anchor="start" font-weight="normal" fill="#231f20" >(anti Flag)</text>
<text x="650.00" y="171.40" font-size="6.8" text-anchor="start" font-weight="normal" fill="#231f20" >GAPDH</text>
<rect x="15.60" y="228.60" width="180.80" height="101.60" fill="url(#cbg)" stroke="#222" stroke-width="0.9" />
<rect x="19.00" y="286.60" width="11.00" height="2.40" rx="1.20" fill="#d4d4d4" filter="url(#bl2)" opacity="1.0"/>
<rect x="33.70" y="232.30" width="12.40" height="67.70" rx="2.5" fill="url(#lg12)" filter="url(#bl1)" opacity="1.0"/>
<rect x="49.60" y="232.30" width="12.40" height="67.70" rx="2.5" fill="url(#lg13)" filter="url(#bl1)" opacity="1.0"/>
<rect x="66.10" y="232.30" width="12.40" height="67.70" rx="2.5" fill="url(#lg14)" filter="url(#bl1)" opacity="1.0"/>
<rect x="82.50" y="232.30" width="12.40" height="67.70" rx="2.5" fill="url(#lg15)" filter="url(#bl1)" opacity="1.0"/>
<rect x="99.00" y="232.30" width="12.40" height="67.70" rx="2.5" fill="url(#lg16)" filter="url(#bl1)" opacity="1.0"/>
<rect x="115.75" y="235.00" width="10.50" height="61.00" rx="2" fill="url(#lg17)" filter="url(#bl1)" opacity="1.0"/>
<rect x="131.45" y="235.00" width="11.50" height="62.00" rx="2.5" fill="url(#lg18)" filter="url(#bl1)" opacity="1.0"/>
<rect x="147.65" y="235.00" width="11.50" height="62.00" rx="2.5" fill="url(#lg19)" filter="url(#bl1)" opacity="1.0"/>
<rect x="163.95" y="235.00" width="11.50" height="62.00" rx="2.5" fill="url(#lg20)" filter="url(#bl1)" opacity="1.0"/>
<rect x="179.55" y="235.00" width="11.50" height="62.00" rx="2.5" fill="url(#lg21)" filter="url(#bl1)" opacity="1.0"/>
<rect x="18.00" y="306.90" width="13.00" height="2.60" rx="1.30" fill="#c3c3c3" filter="url(#bl3)" opacity="1.0"/>
<rect x="33.40" y="306.90" width="13.00" height="2.60" rx="1.30" fill="#afafaf" filter="url(#bl3)" opacity="1.0"/>
<rect x="49.30" y="306.90" width="13.00" height="2.60" rx="1.30" fill="#afafaf" filter="url(#bl3)" opacity="1.0"/>
<rect x="65.80" y="306.90" width="13.00" height="2.60" rx="1.30" fill="#afafaf" filter="url(#bl3)" opacity="1.0"/>
<rect x="82.20" y="306.90" width="13.00" height="2.60" rx="1.30" fill="#afafaf" filter="url(#bl3)" opacity="1.0"/>
<rect x="98.70" y="306.90" width="13.00" height="2.60" rx="1.30" fill="#afafaf" filter="url(#bl3)" opacity="1.0"/>
<rect x="114.50" y="306.90" width="13.00" height="2.60" rx="1.30" fill="#afafaf" filter="url(#bl3)" opacity="1.0"/>
<rect x="130.70" y="306.90" width="13.00" height="2.60" rx="1.30" fill="#afafaf" filter="url(#bl3)" opacity="1.0"/>
<rect x="146.90" y="306.90" width="13.00" height="2.60" rx="1.30" fill="#afafaf" filter="url(#bl3)" opacity="1.0"/>
<rect x="163.20" y="306.90" width="13.00" height="2.60" rx="1.30" fill="#afafaf" filter="url(#bl3)" opacity="1.0"/>
<rect x="178.80" y="306.90" width="13.00" height="2.60" rx="1.30" fill="#c3c3c3" filter="url(#bl3)" opacity="1.0"/>
<line x1="13.00" y1="238.00" x2="15.60" y2="238.00" stroke="#231f20" stroke-width="0.8" />
<text x="12.80" y="240.35" font-size="6.6" text-anchor="end" font-weight="normal" fill="#231f20" >180</text>
<line x1="13.00" y1="246.70" x2="15.60" y2="246.70" stroke="#231f20" stroke-width="0.8" />
<text x="12.80" y="249.05" font-size="6.6" text-anchor="end" font-weight="normal" fill="#231f20" >130</text>
<line x1="13.00" y1="258.40" x2="15.60" y2="258.40" stroke="#231f20" stroke-width="0.8" />
<text x="12.80" y="260.75" font-size="6.6" text-anchor="end" font-weight="normal" fill="#231f20" >95</text>
<line x1="13.00" y1="269.50" x2="15.60" y2="269.50" stroke="#231f20" stroke-width="0.8" />
<text x="12.80" y="271.85" font-size="6.6" text-anchor="end" font-weight="normal" fill="#231f20" >72</text>
<line x1="13.00" y1="283.20" x2="15.60" y2="283.20" stroke="#231f20" stroke-width="0.8" />
<text x="12.80" y="285.55" font-size="6.6" text-anchor="end" font-weight="normal" fill="#231f20" >55</text>
<line x1="13.00" y1="296.40" x2="15.60" y2="296.40" stroke="#231f20" stroke-width="0.8" />
<text x="12.80" y="298.75" font-size="6.6" text-anchor="end" font-weight="normal" fill="#231f20" >43</text>
<line x1="13.00" y1="313.00" x2="15.60" y2="313.00" stroke="#231f20" stroke-width="0.8" />
<text x="12.80" y="315.35" font-size="6.6" text-anchor="end" font-weight="normal" fill="#231f20" >33</text>
<line x1="13.00" y1="324.40" x2="15.60" y2="324.40" stroke="#231f20" stroke-width="0.8" />
<text x="12.80" y="326.75" font-size="6.6" text-anchor="end" font-weight="normal" fill="#231f20" >25</text>
<text x="14.30" y="232.20" font-size="6.6" text-anchor="end" font-weight="normal" fill="#231f20" >kDa</text>
<rect x="15.60" y="333.00" width="180.80" height="12.70" fill="#9ba6a6" stroke="#222" stroke-width="0.9" />
<rect x="109.50" y="337.10" width="86.00" height="4.40" rx="2.20" fill="#080808" filter="url(#bl2)" opacity="1.0"/>
<line x1="13.00" y1="340.00" x2="15.60" y2="340.00" stroke="#231f20" stroke-width="0.8" />
<text x="12.80" y="342.35" font-size="6.6" text-anchor="end" font-weight="normal" fill="#231f20" >33</text>
<rect x="15.60" y="348.20" width="180.80" height="12.40" fill="#d8d8d8" stroke="#222" stroke-width="0.9" />
<rect x="16.05" y="352.10" width="13.50" height="4.00" rx="2.00" fill="#0c0c0c" filter="url(#bl2)" opacity="1.0"/>
<rect x="31.70" y="352.10" width="13.00" height="4.00" rx="2.00" fill="#0c0c0c" filter="url(#bl2)" opacity="1.0"/>
<rect x="47.00" y="352.10" width="13.00" height="4.00" rx="2.00" fill="#0c0c0c" filter="url(#bl2)" opacity="1.0"/>
<rect x="61.40" y="352.10" width="13.00" height="4.00" rx="2.00" fill="#0c0c0c" filter="url(#bl2)" opacity="1.0"/>
<rect x="76.55" y="352.10" width="12.50" height="4.00" rx="2.00" fill="#0c0c0c" filter="url(#bl2)" opacity="1.0"/>
<rect x="91.40" y="352.10" width="14.00" height="4.00" rx="2.00" fill="#0c0c0c" filter="url(#bl2)" opacity="1.0"/>
<rect x="115.70" y="352.10" width="16.00" height="4.00" rx="2.00" fill="#0c0c0c" filter="url(#bl2)" opacity="1.0"/>
<rect x="135.00" y="352.10" width="13.00" height="4.00" rx="2.00" fill="#0c0c0c" filter="url(#bl2)" opacity="1.0"/>
<rect x="150.50" y="352.10" width="13.00" height="4.00" rx="2.00" fill="#0c0c0c" filter="url(#bl2)" opacity="1.0"/>
<rect x="165.25" y="352.10" width="13.50" height="4.00" rx="2.00" fill="#0c0c0c" filter="url(#bl2)" opacity="1.0"/>
<rect x="180.60" y="352.10" width="14.00" height="4.00" rx="2.00" fill="#0c0c0c" filter="url(#bl2)" opacity="1.0"/>
<line x1="13.00" y1="350.00" x2="15.60" y2="350.00" stroke="#231f20" stroke-width="0.8" />
<text x="12.80" y="352.35" font-size="6.6" text-anchor="end" font-weight="normal" fill="#231f20" >43</text>
<text x="110.80" y="200.60" font-size="6.8" text-anchor="middle" font-weight="normal" fill="#231f20" >IFN-α</text>
<line x1="35.00" y1="202.60" x2="192.70" y2="202.60" stroke="#231f20" stroke-width="0.8" />
<text x="154.60" y="209.20" font-size="7.0" text-anchor="middle" font-weight="normal" fill="#231f20" >PL<tspan font-size="4.4" dy="-2.6" stroke-width="0.08">pro</tspan></text>
<line x1="112.40" y1="211.80" x2="192.70" y2="211.80" stroke="#888" stroke-width="0.8" />
<text x="25.40" y="220.20" font-size="6.8" text-anchor="middle" font-weight="normal" fill="#231f20" >-</text>
<text x="41.00" y="220.20" font-size="6.8" text-anchor="middle" font-weight="normal" fill="#231f20" >-</text>
<text x="57.80" y="220.20" font-size="6.8" text-anchor="middle" font-weight="normal" fill="#231f20" >100</text>
<text x="73.00" y="220.20" font-size="6.8" text-anchor="middle" font-weight="normal" fill="#231f20" >10</text>
<text x="88.80" y="220.20" font-size="6.8" text-anchor="middle" font-weight="normal" fill="#231f20" >1</text>
<text x="105.20" y="220.20" font-size="6.8" text-anchor="middle" font-weight="normal" fill="#231f20" >0.1</text>
<text x="120.70" y="220.20" font-size="6.8" text-anchor="middle" font-weight="normal" fill="#231f20" >-</text>
<text x="137.00" y="220.20" font-size="6.8" text-anchor="middle" font-weight="normal" fill="#231f20" >-</text>
<text x="152.60" y="220.20" font-size="6.8" text-anchor="middle" font-weight="normal" fill="#231f20" >10</text>
<text x="168.60" y="220.20" font-size="6.8" text-anchor="middle" font-weight="normal" fill="#231f20" >1</text>
<text x="184.60" y="220.20" font-size="6.8" text-anchor="middle" font-weight="normal" fill="#231f20" >0.1</text>
<text x="25.40" y="226.40" font-size="6.8" text-anchor="middle" font-weight="normal" fill="#231f20" >-</text>
<text x="41.00" y="226.40" font-size="6.8" text-anchor="middle" font-weight="normal" fill="#231f20" >-</text>
<text x="57.80" y="226.40" font-size="6.8" text-anchor="middle" font-weight="normal" fill="#231f20" >-</text>
<text x="73.00" y="226.40" font-size="6.8" text-anchor="middle" font-weight="normal" fill="#231f20" >-</text>
<text x="88.80" y="226.40" font-size="6.8" text-anchor="middle" font-weight="normal" fill="#231f20" >-</text>
<text x="105.20" y="226.40" font-size="6.8" text-anchor="middle" font-weight="normal" fill="#231f20" >-</text>
<text x="120.70" y="226.40" font-size="6.8" text-anchor="middle" font-weight="normal" fill="#231f20" >-</text>
<text x="137.00" y="226.40" font-size="6.8" text-anchor="middle" font-weight="normal" fill="#231f20" >10</text>
<text x="152.60" y="226.40" font-size="6.8" text-anchor="middle" font-weight="normal" fill="#231f20" >-</text>
<text x="168.60" y="226.40" font-size="6.8" text-anchor="middle" font-weight="normal" fill="#231f20" >-</text>
<text x="184.60" y="226.40" font-size="6.8" text-anchor="middle" font-weight="normal" fill="#231f20" >-</text>
<text x="196.00" y="219.60" font-size="6.8" text-anchor="start" font-weight="normal" fill="#231f20" >YL1004</text>
<text x="196.00" y="226.60" font-size="6.8" text-anchor="start" font-weight="normal" fill="#231f20" >Jun12682</text>
<text x="16.20" y="226.30" font-size="6.6" text-anchor="end" font-weight="normal" fill="#231f20" >(µM)</text>
<text x="198.00" y="270.60" font-size="6.8" text-anchor="start" font-weight="normal" fill="#231f20" >ISGylation</text>
<text x="199.00" y="341.00" font-size="6.8" text-anchor="start" font-weight="normal" fill="#231f20" >anti PL<tspan font-size="3.8" dy="-2.4" stroke-width="0.08">pro</tspan></text>
<text x="199.00" y="355.60" font-size="6.8" text-anchor="start" font-weight="normal" fill="#231f20" >GAPDH</text>
<line x1="277.90" y1="237.60" x2="277.90" y2="333.30" stroke="#231f20" stroke-width="1.0" />
<line x1="277.50" y1="332.90" x2="394.60" y2="332.90" stroke="#231f20" stroke-width="1.0" />
<line x1="277.90" y1="332.90" x2="277.90" y2="336.30" stroke="#231f20" stroke-width="0.9" />
<text transform="translate(280.20,337.10) rotate(-90)" font-size="6.8" text-anchor="end" fill="#231f20">0</text>
<line x1="316.80" y1="332.90" x2="316.80" y2="336.30" stroke="#231f20" stroke-width="0.9" />
<text transform="translate(319.10,337.10) rotate(-90)" font-size="6.8" text-anchor="end" fill="#231f20">50</text>
<line x1="355.70" y1="332.90" x2="355.70" y2="336.30" stroke="#231f20" stroke-width="0.9" />
<text transform="translate(358.00,337.10) rotate(-90)" font-size="6.8" text-anchor="end" fill="#231f20">100</text>
<line x1="394.60" y1="332.90" x2="394.60" y2="336.30" stroke="#231f20" stroke-width="0.9" />
<text transform="translate(396.90,337.10) rotate(-90)" font-size="6.8" text-anchor="end" fill="#231f20">150</text>
<line x1="297.35" y1="332.90" x2="297.35" y2="334.90" stroke="#231f20" stroke-width="0.8" />
<line x1="336.25" y1="332.90" x2="336.25" y2="334.90" stroke="#231f20" stroke-width="0.8" />
<line x1="375.15" y1="332.90" x2="375.15" y2="334.90" stroke="#231f20" stroke-width="0.8" />
<line x1="316.80" y1="237.60" x2="316.80" y2="332.90" stroke="#231f20" stroke-width="0.9" stroke-dasharray="2.2,2.2"/>
<line x1="355.70" y1="237.60" x2="355.70" y2="332.90" stroke="#231f20" stroke-width="0.9" stroke-dasharray="2.2,2.2"/>
<rect x="277.90" y="241.50" width="76.24" height="5.80" fill="#f2e1f6" stroke="#9a3cb3" stroke-width="1.1" />
<line x1="354.14" y1="244.40" x2="358.81" y2="244.40" stroke="#9a3cb3" stroke-width="1.0" />
<line x1="358.81" y1="242.40" x2="358.81" y2="246.40" stroke="#9a3cb3" stroke-width="1.0" />
<line x1="274.50" y1="244.40" x2="277.90" y2="244.40" stroke="#231f20" stroke-width="0.9" />
<text x="273.30" y="246.50" font-size="5.9" text-anchor="end" font-weight="normal" fill="#231f20" >UCHL5</text>
<rect x="277.90" y="250.72" width="71.19" height="5.80" fill="#f2e1f6" stroke="#9a3cb3" stroke-width="1.1" />
<line x1="349.09" y1="253.62" x2="351.03" y2="253.62" stroke="#9a3cb3" stroke-width="1.0" />
<line x1="351.03" y1="251.62" x2="351.03" y2="255.62" stroke="#9a3cb3" stroke-width="1.0" />
<line x1="274.50" y1="253.62" x2="277.90" y2="253.62" stroke="#231f20" stroke-width="0.9" />
<text x="273.30" y="255.72" font-size="5.9" text-anchor="end" font-weight="normal" fill="#231f20" >BAP1</text>
<rect x="277.90" y="259.94" width="84.41" height="5.80" fill="#f2e1f6" stroke="#9a3cb3" stroke-width="1.1" />
<line x1="362.31" y1="262.84" x2="363.09" y2="262.84" stroke="#9a3cb3" stroke-width="1.0" />
<line x1="363.09" y1="260.84" x2="363.09" y2="264.84" stroke="#9a3cb3" stroke-width="1.0" />
<line x1="274.50" y1="262.84" x2="277.90" y2="262.84" stroke="#231f20" stroke-width="0.9" />
<text x="273.30" y="264.94" font-size="5.9" text-anchor="end" font-weight="normal" fill="#231f20" >USP14</text>
<rect x="277.90" y="269.16" width="69.48" height="5.80" fill="#f2e1f6" stroke="#9a3cb3" stroke-width="1.1" />
<line x1="274.50" y1="272.06" x2="277.90" y2="272.06" stroke="#231f20" stroke-width="0.9" />
<text x="273.30" y="274.16" font-size="5.9" text-anchor="end" font-weight="normal" fill="#231f20" >OTUB1</text>
<rect x="277.90" y="278.38" width="73.68" height="5.80" fill="#f2e1f6" stroke="#9a3cb3" stroke-width="1.1" />
<line x1="351.58" y1="281.28" x2="354.14" y2="281.28" stroke="#9a3cb3" stroke-width="1.0" />
<line x1="354.14" y1="279.28" x2="354.14" y2="283.28" stroke="#9a3cb3" stroke-width="1.0" />
<line x1="274.50" y1="281.28" x2="277.90" y2="281.28" stroke="#231f20" stroke-width="0.9" />
<text x="273.30" y="283.38" font-size="5.9" text-anchor="end" font-weight="normal" fill="#231f20" >OTUD2</text>
<rect x="277.90" y="287.60" width="62.47" height="5.80" fill="#f2e1f6" stroke="#9a3cb3" stroke-width="1.1" />
<line x1="340.37" y1="290.50" x2="351.58" y2="290.50" stroke="#9a3cb3" stroke-width="1.0" />
<line x1="351.58" y1="288.50" x2="351.58" y2="292.50" stroke="#9a3cb3" stroke-width="1.0" />
<line x1="274.50" y1="290.50" x2="277.90" y2="290.50" stroke="#231f20" stroke-width="0.9" />
<text x="273.30" y="292.60" font-size="5.9" text-anchor="end" font-weight="normal" fill="#231f20" >USP28</text>
<rect x="277.90" y="296.82" width="60.84" height="5.80" fill="#f2e1f6" stroke="#9a3cb3" stroke-width="1.1" />
<line x1="338.74" y1="299.72" x2="346.21" y2="299.72" stroke="#9a3cb3" stroke-width="1.0" />
<line x1="346.21" y1="297.72" x2="346.21" y2="301.72" stroke="#9a3cb3" stroke-width="1.0" />
<line x1="274.50" y1="299.72" x2="277.90" y2="299.72" stroke="#231f20" stroke-width="0.9" />
<text x="273.30" y="301.82" font-size="5.9" text-anchor="end" font-weight="normal" fill="#231f20" >USP8</text>
<rect x="277.90" y="306.04" width="84.41" height="5.80" fill="#f2e1f6" stroke="#9a3cb3" stroke-width="1.1" />
<line x1="362.31" y1="308.94" x2="368.93" y2="308.94" stroke="#9a3cb3" stroke-width="1.0" />
<line x1="368.93" y1="306.94" x2="368.93" y2="310.94" stroke="#9a3cb3" stroke-width="1.0" />
<line x1="274.50" y1="308.94" x2="277.90" y2="308.94" stroke="#231f20" stroke-width="0.9" />
<text x="273.30" y="311.04" font-size="5.9" text-anchor="end" font-weight="normal" fill="#231f20" >USP2</text>
<rect x="277.90" y="315.26" width="103.47" height="5.80" fill="#f2e1f6" stroke="#9a3cb3" stroke-width="1.1" />
<line x1="381.37" y1="318.16" x2="388.14" y2="318.16" stroke="#9a3cb3" stroke-width="1.0" />
<line x1="388.14" y1="316.16" x2="388.14" y2="320.16" stroke="#9a3cb3" stroke-width="1.0" />
<line x1="274.50" y1="318.16" x2="277.90" y2="318.16" stroke="#231f20" stroke-width="0.9" />
<text x="273.30" y="320.26" font-size="5.9" text-anchor="end" font-weight="normal" fill="#231f20" >UCHL1</text>
<rect x="277.90" y="324.48" width="79.36" height="5.80" fill="#f2e1f6" stroke="#9a3cb3" stroke-width="1.1" />
<line x1="357.26" y1="327.38" x2="369.70" y2="327.38" stroke="#9a3cb3" stroke-width="1.0" />
<line x1="369.70" y1="325.38" x2="369.70" y2="329.38" stroke="#9a3cb3" stroke-width="1.0" />
<line x1="274.50" y1="327.38" x2="277.90" y2="327.38" stroke="#231f20" stroke-width="0.9" />
<text x="273.30" y="329.48" font-size="5.9" text-anchor="end" font-weight="normal" fill="#231f20" >USP21</text>
<text transform="translate(240.60,288.00) rotate(-90)" x="0" y="0" font-size="6.3" text-anchor="middle" dominant-baseline="central" fill="#231f20" >Enzyme activity</text>
<text transform="translate(247.00,288.20) rotate(-90)" x="0" y="0" font-size="6.3" text-anchor="middle" dominant-baseline="central" fill="#231f20" >(100% of control)</text>
<rect x="387.90" y="245.10" width="8.70" height="4.30" fill="#f2e1f6" stroke="#9a3cb3" stroke-width="1.1" />
<text x="401.80" y="250.00" font-size="7.0" text-anchor="start" font-weight="normal" fill="#231f20" >YL1004</text>
<rect x="450.70" y="229.20" width="188.80" height="102.80" fill="#f6f6f6" stroke="#222" stroke-width="0.9" />
<rect x="455.10" y="231.00" width="11.60" height="100.00" rx="2" fill="url(#lg22)" filter="url(#bl1)" opacity="1.0"/>
<rect x="454.40" y="306.3" width="13.0" height="8.8" rx="3.6" fill="#060606" filter="url(#bl2)"/>
<rect x="484.80" y="231.00" width="11.60" height="100.00" rx="2" fill="url(#lg23)" filter="url(#bl1)" opacity="1.0"/>
<rect x="484.10" y="306.3" width="13.0" height="8.8" rx="3.6" fill="#060606" filter="url(#bl2)"/>
<rect x="500.80" y="231.00" width="11.60" height="100.00" rx="2" fill="url(#lg24)" filter="url(#bl1)" opacity="1.0"/>
<rect x="500.10" y="306.3" width="13.0" height="8.8" rx="3.6" fill="#060606" filter="url(#bl2)"/>
<rect x="516.70" y="231.00" width="11.60" height="100.00" rx="2" fill="url(#lg25)" filter="url(#bl1)" opacity="1.0"/>
<rect x="516.00" y="306.3" width="13.0" height="8.8" rx="3.6" fill="#060606" filter="url(#bl2)"/>
<rect x="532.20" y="231.00" width="11.60" height="100.00" rx="2" fill="url(#lg26)" filter="url(#bl1)" opacity="1.0"/>
<rect x="531.50" y="306.3" width="13.0" height="8.8" rx="3.6" fill="#060606" filter="url(#bl2)"/>
<rect x="546.80" y="231.00" width="11.60" height="100.00" rx="2" fill="url(#lg27)" filter="url(#bl1)" opacity="1.0"/>
<rect x="546.10" y="306.3" width="13.0" height="8.8" rx="3.6" fill="#060606" filter="url(#bl2)"/>
<rect x="578.40" y="231.00" width="11.60" height="100.00" rx="2" fill="url(#lg28)" filter="url(#bl1)" opacity="1.0"/>
<rect x="577.70" y="306.3" width="13.0" height="8.8" rx="3.6" fill="#060606" filter="url(#bl2)"/>
<rect x="594.40" y="231.00" width="11.60" height="100.00" rx="2" fill="url(#lg29)" filter="url(#bl1)" opacity="1.0"/>
<rect x="593.70" y="306.3" width="13.0" height="8.8" rx="3.6" fill="#060606" filter="url(#bl2)"/>
<rect x="609.40" y="231.00" width="11.60" height="100.00" rx="2" fill="url(#lg30)" filter="url(#bl1)" opacity="1.0"/>
<rect x="608.70" y="306.3" width="13.0" height="8.8" rx="3.6" fill="#060606" filter="url(#bl2)"/>
<rect x="624.50" y="231.00" width="11.60" height="100.00" rx="2" fill="url(#lg31)" filter="url(#bl1)" opacity="1.0"/>
<rect x="623.80" y="306.3" width="13.0" height="8.8" rx="3.6" fill="#060606" filter="url(#bl2)"/>
<rect x="470.10" y="262.00" width="11.60" height="43.00" rx="2" fill="url(#lg32)" filter="url(#bl1)" opacity="1.0"/>
<rect x="562.40" y="262.00" width="11.60" height="43.00" rx="2" fill="url(#lg33)" filter="url(#bl1)" opacity="1.0"/>
<rect x="546.40" y="291.6" width="12.4" height="7.4" rx="3.4" fill="#050505" filter="url(#bl2)"/>
<line x1="448.10" y1="235.60" x2="450.70" y2="235.60" stroke="#231f20" stroke-width="0.8" />
<text x="447.90" y="237.95" font-size="6.6" text-anchor="end" font-weight="normal" fill="#231f20" >180</text>
<line x1="448.10" y1="241.20" x2="450.70" y2="241.20" stroke="#231f20" stroke-width="0.8" />
<text x="447.90" y="243.55" font-size="6.6" text-anchor="end" font-weight="normal" fill="#231f20" >130</text>
<line x1="448.10" y1="248.20" x2="450.70" y2="248.20" stroke="#231f20" stroke-width="0.8" />
<text x="447.90" y="250.55" font-size="6.6" text-anchor="end" font-weight="normal" fill="#231f20" >95</text>
<line x1="448.10" y1="256.60" x2="450.70" y2="256.60" stroke="#231f20" stroke-width="0.8" />
<text x="447.90" y="258.95" font-size="6.6" text-anchor="end" font-weight="normal" fill="#231f20" >72</text>
<line x1="448.10" y1="269.00" x2="450.70" y2="269.00" stroke="#231f20" stroke-width="0.8" />
<text x="447.90" y="271.35" font-size="6.6" text-anchor="end" font-weight="normal" fill="#231f20" >55</text>
<line x1="448.10" y1="281.40" x2="450.70" y2="281.40" stroke="#231f20" stroke-width="0.8" />
<text x="447.90" y="283.75" font-size="6.6" text-anchor="end" font-weight="normal" fill="#231f20" >43</text>
<line x1="448.10" y1="297.20" x2="450.70" y2="297.20" stroke="#231f20" stroke-width="0.8" />
<text x="447.90" y="299.55" font-size="6.6" text-anchor="end" font-weight="normal" fill="#231f20" >33</text>
<line x1="448.10" y1="310.80" x2="450.70" y2="310.80" stroke="#231f20" stroke-width="0.8" />
<text x="447.90" y="313.15" font-size="6.6" text-anchor="end" font-weight="normal" fill="#231f20" >25</text>
<text x="449.20" y="231.60" font-size="6.6" text-anchor="end" font-weight="normal" fill="#231f20" >kDa</text>
<rect x="450.70" y="335.20" width="188.80" height="15.70" fill="#e8e8e8" stroke="#222" stroke-width="0.9" />
<rect x="453.90" y="340.50" width="14.00" height="5.80" rx="2.90" fill="#080808" filter="url(#bl2)" opacity="1.0"/>
<rect x="468.90" y="340.50" width="14.00" height="5.80" rx="2.90" fill="#080808" filter="url(#bl2)" opacity="1.0"/>
<rect x="483.60" y="340.50" width="14.00" height="5.80" rx="2.90" fill="#080808" filter="url(#bl2)" opacity="1.0"/>
<rect x="499.60" y="340.50" width="14.00" height="5.80" rx="2.90" fill="#080808" filter="url(#bl2)" opacity="1.0"/>
<rect x="515.50" y="340.50" width="14.00" height="5.80" rx="2.90" fill="#080808" filter="url(#bl2)" opacity="1.0"/>
<rect x="531.00" y="340.50" width="14.00" height="5.80" rx="2.90" fill="#080808" filter="url(#bl2)" opacity="1.0"/>
<rect x="545.60" y="340.50" width="14.00" height="5.80" rx="2.90" fill="#080808" filter="url(#bl2)" opacity="1.0"/>
<rect x="561.20" y="340.50" width="14.00" height="5.80" rx="2.90" fill="#080808" filter="url(#bl2)" opacity="1.0"/>
<rect x="577.20" y="340.50" width="14.00" height="5.80" rx="2.90" fill="#080808" filter="url(#bl2)" opacity="1.0"/>
<rect x="593.20" y="340.50" width="14.00" height="5.80" rx="2.90" fill="#080808" filter="url(#bl2)" opacity="1.0"/>
<rect x="608.20" y="340.50" width="14.00" height="5.80" rx="2.90" fill="#080808" filter="url(#bl2)" opacity="1.0"/>
<rect x="623.30" y="340.50" width="14.00" height="5.80" rx="2.90" fill="#080808" filter="url(#bl2)" opacity="1.0"/>
<text x="449.60" y="337.60" font-size="6.6" text-anchor="end" font-weight="normal" fill="#231f20" >43</text>
<text x="449.60" y="350.60" font-size="6.6" text-anchor="end" font-weight="normal" fill="#231f20" >33</text>
<line x1="448.10" y1="335.60" x2="450.70" y2="335.60" stroke="#231f20" stroke-width="0.8" />
<line x1="448.10" y1="348.20" x2="450.70" y2="348.20" stroke="#231f20" stroke-width="0.8" />
<text x="590.80" y="202.60" font-size="6.8" text-anchor="middle" font-weight="normal" fill="#231f20" >PL<tspan font-size="3.8" dy="-2.4" stroke-width="0.08">pro</tspan></text>
<line x1="547.40" y1="204.90" x2="632.90" y2="204.90" stroke="#a0a0a0" stroke-width="1.3" />
<text x="461.60" y="213.40" font-size="6.8" text-anchor="middle" font-weight="normal" fill="#231f20" >-</text>
<text x="477.30" y="213.40" font-size="6.8" text-anchor="middle" font-weight="normal" fill="#231f20" >40</text>
<text x="491.50" y="213.40" font-size="6.8" text-anchor="middle" font-weight="normal" fill="#231f20" >-</text>
<text x="507.80" y="213.40" font-size="6.8" text-anchor="middle" font-weight="normal" fill="#231f20" >-</text>
<text x="522.40" y="213.40" font-size="6.8" text-anchor="middle" font-weight="normal" fill="#231f20" >-</text>
<text x="536.80" y="213.40" font-size="6.8" text-anchor="middle" font-weight="normal" fill="#231f20" >-</text>
<text x="551.50" y="213.40" font-size="6.8" text-anchor="middle" font-weight="normal" fill="#231f20" >-</text>
<text x="566.40" y="213.40" font-size="6.8" text-anchor="middle" font-weight="normal" fill="#231f20" >40</text>
<text x="582.10" y="213.40" font-size="6.8" text-anchor="middle" font-weight="normal" fill="#231f20" >-</text>
<text x="598.30" y="213.40" font-size="6.8" text-anchor="middle" font-weight="normal" fill="#231f20" >-</text>
<text x="613.40" y="213.40" font-size="6.8" text-anchor="middle" font-weight="normal" fill="#231f20" >-</text>
<text x="628.00" y="213.40" font-size="6.8" text-anchor="middle" font-weight="normal" fill="#231f20" >-</text>
<text x="461.60" y="220.90" font-size="6.8" text-anchor="middle" font-weight="normal" fill="#231f20" >-</text>
<text x="477.30" y="220.90" font-size="6.8" text-anchor="middle" font-weight="normal" fill="#231f20" >-</text>
<text x="491.50" y="220.90" font-size="6.8" text-anchor="middle" font-weight="normal" fill="#231f20" >100</text>
<text x="507.80" y="220.90" font-size="6.8" text-anchor="middle" font-weight="normal" fill="#231f20" >-</text>
<text x="522.40" y="220.90" font-size="6.8" text-anchor="middle" font-weight="normal" fill="#231f20" >-</text>
<text x="536.80" y="220.90" font-size="6.8" text-anchor="middle" font-weight="normal" fill="#231f20" >-</text>
<text x="551.50" y="220.90" font-size="6.8" text-anchor="middle" font-weight="normal" fill="#231f20" >-</text>
<text x="566.40" y="220.90" font-size="6.8" text-anchor="middle" font-weight="normal" fill="#231f20" >-</text>
<text x="582.10" y="220.90" font-size="6.8" text-anchor="middle" font-weight="normal" fill="#231f20" >100</text>
<text x="598.30" y="220.90" font-size="6.8" text-anchor="middle" font-weight="normal" fill="#231f20" >-</text>
<text x="613.40" y="220.90" font-size="6.8" text-anchor="middle" font-weight="normal" fill="#231f20" >-</text>
<text x="628.00" y="220.90" font-size="6.8" text-anchor="middle" font-weight="normal" fill="#231f20" >-</text>
<text x="461.60" y="227.50" font-size="6.8" text-anchor="middle" font-weight="normal" fill="#231f20" >-</text>
<text x="477.30" y="227.50" font-size="6.8" text-anchor="middle" font-weight="normal" fill="#231f20" >-</text>
<text x="491.50" y="227.50" font-size="6.8" text-anchor="middle" font-weight="normal" fill="#231f20" >-</text>
<text x="507.80" y="227.50" font-size="6.8" text-anchor="middle" font-weight="normal" fill="#231f20" >100</text>
<text x="522.40" y="227.50" font-size="6.8" text-anchor="middle" font-weight="normal" fill="#231f20" >10</text>
<text x="536.80" y="227.50" font-size="6.8" text-anchor="middle" font-weight="normal" fill="#231f20" >1</text>
<text x="551.50" y="227.50" font-size="6.8" text-anchor="middle" font-weight="normal" fill="#231f20" >-</text>
<text x="566.40" y="227.50" font-size="6.8" text-anchor="middle" font-weight="normal" fill="#231f20" >-</text>
<text x="582.10" y="227.50" font-size="6.8" text-anchor="middle" font-weight="normal" fill="#231f20" >-</text>
<text x="598.30" y="227.50" font-size="6.8" text-anchor="middle" font-weight="normal" fill="#231f20" >100</text>
<text x="613.40" y="227.50" font-size="6.8" text-anchor="middle" font-weight="normal" fill="#231f20" >10</text>
<text x="628.00" y="227.50" font-size="6.8" text-anchor="middle" font-weight="normal" fill="#231f20" >1</text>
<text x="639.50" y="213.60" font-size="6.8" text-anchor="start" font-weight="normal" fill="#231f20" >NEM (mM)</text>
<text x="639.50" y="220.70" font-size="6.8" text-anchor="start" font-weight="normal" fill="#231f20" >GRL0617 (µM)</text>
<text x="639.50" y="227.40" font-size="6.8" text-anchor="start" font-weight="normal" fill="#231f20" >YL1004 (µM)</text>
<text x="642.20" y="283.60" font-size="6.8" text-anchor="start" font-weight="normal" fill="#231f20" >anti HA</text>
<text x="640.70" y="345.30" font-size="6.8" text-anchor="start" font-weight="normal" fill="#231f20" >GAPDH</text>
<text x="559.00" y="298.20" font-size="6.4" text-anchor="start" font-weight="normal" fill="#231f20" >*PL<tspan font-size="3.8" dy="-2.4" stroke-width="0.08">pro</tspan></text>
</svg></body></html>
